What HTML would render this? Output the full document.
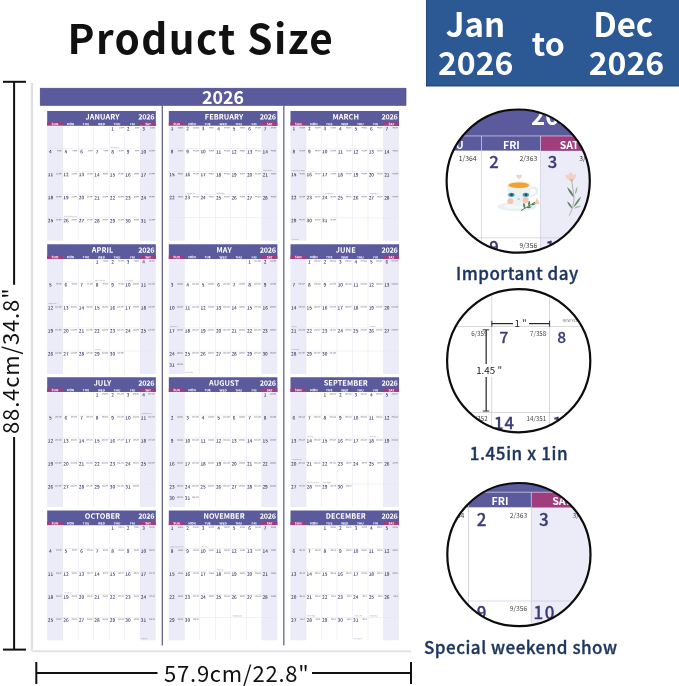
<!DOCTYPE html>
<html lang="en"><head><meta charset="utf-8"><title>Product Size</title>
<style>
html,body{margin:0;padding:0;background:#fff;}
body{width:679px;height:686px;overflow:hidden;position:relative;font-family:'Noto Sans CJK SC','Liberation Sans',sans-serif;}
svg{position:absolute;left:0;top:0;display:block;}
#t{will-change:transform;}
text{font-family:'Noto Sans CJK SC','Liberation Sans',sans-serif;}
.b{font-weight:700}.m{font-weight:500}.r{font-weight:400}
.w{fill:#fff}.n{fill:#3c3c76;stroke:#3c3c76;stroke-width:0.3px}.g{fill:#4a4a4a}
</style></head><body>
<svg width="679" height="686" viewBox="0 0 679 686">
<defs>
<linearGradient id="shl" x1="0" x2="1" y1="0" y2="0"><stop offset="0" stop-color="#fff"/><stop offset="0.6" stop-color="#d4d4da"/><stop offset="1" stop-color="#fff"/></linearGradient>
<linearGradient id="shb" x1="0" x2="0" y1="0" y2="1"><stop offset="0" stop-color="#fff"/><stop offset="0.5" stop-color="#d9d9de"/><stop offset="1" stop-color="#fff"/></linearGradient>
</defs>

<rect x="30" y="83" width="3.6" height="568" fill="url(#shl)"/>
<rect x="32" y="649.6" width="379" height="3.2" fill="url(#shb)"/>
<rect x="40.200" y="88.200" width="365.800" height="17.200" fill="#5b5a9c" stroke="#46457f" stroke-width="0.600"/>
<rect x="161.7" y="105.5" width="1.1" height="540" fill="#4a4a78"/>
<rect x="283.3" y="105.5" width="1.1" height="540" fill="#4a4a78"/>
<g transform="translate(47.2,111.0) rotate(0.04)">
<rect x="0" y="0" width="108.6" height="14.8" fill="#5b5a9c"/>
<rect x="0" y="11.3" width="15.51" height="3.5" fill="#a03d7c"/>
<rect x="93.09" y="11.3" width="15.51" height="3.5" fill="#a03d7c"/>
<rect x="0" y="14.8" width="15.51" height="115.0" fill="#ebecf7"/>
<rect x="93.09" y="14.8" width="15.51" height="115.0" fill="#ebecf7"/>
<rect x="15.26" y="14.8" width="0.5" height="115.0" fill="#e4e4f0"/>
<rect x="30.78" y="14.8" width="0.5" height="115.0" fill="#e4e4f0"/>
<rect x="46.29" y="14.8" width="0.5" height="115.0" fill="#e4e4f0"/>
<rect x="61.81" y="14.8" width="0.5" height="115.0" fill="#e4e4f0"/>
<rect x="77.32" y="14.8" width="0.5" height="115.0" fill="#e4e4f0"/>
<rect x="92.84" y="14.8" width="0.5" height="115.0" fill="#e4e4f0"/>
<rect x="0" y="37.55" width="108.6" height="0.5" fill="#e4e4f0"/>
<rect x="0" y="60.55" width="108.6" height="0.5" fill="#e4e4f0"/>
<rect x="0" y="83.55" width="108.6" height="0.5" fill="#e4e4f0"/>
<rect x="0" y="106.55" width="108.6" height="0.5" fill="#e4e4f0"/>
</g>
<g transform="translate(168.8,111.0) rotate(0.04)">
<rect x="0" y="0" width="108.6" height="14.8" fill="#5b5a9c"/>
<rect x="0" y="11.3" width="15.51" height="3.5" fill="#a03d7c"/>
<rect x="93.09" y="11.3" width="15.51" height="3.5" fill="#a03d7c"/>
<rect x="0" y="14.8" width="15.51" height="115.0" fill="#ebecf7"/>
<rect x="93.09" y="14.8" width="15.51" height="115.0" fill="#ebecf7"/>
<rect x="15.26" y="14.8" width="0.5" height="115.0" fill="#e4e4f0"/>
<rect x="30.78" y="14.8" width="0.5" height="115.0" fill="#e4e4f0"/>
<rect x="46.29" y="14.8" width="0.5" height="115.0" fill="#e4e4f0"/>
<rect x="61.81" y="14.8" width="0.5" height="115.0" fill="#e4e4f0"/>
<rect x="77.32" y="14.8" width="0.5" height="115.0" fill="#e4e4f0"/>
<rect x="92.84" y="14.8" width="0.5" height="115.0" fill="#e4e4f0"/>
<rect x="0" y="37.55" width="108.6" height="0.5" fill="#e4e4f0"/>
<rect x="0" y="60.55" width="108.6" height="0.5" fill="#e4e4f0"/>
<rect x="0" y="83.55" width="108.6" height="0.5" fill="#e4e4f0"/>
<rect x="0" y="106.55" width="108.6" height="0.5" fill="#e4e4f0"/>
</g>
<g transform="translate(290.5,111.0) rotate(0.04)">
<rect x="0" y="0" width="108.6" height="14.8" fill="#5b5a9c"/>
<rect x="0" y="11.3" width="15.51" height="3.5" fill="#a03d7c"/>
<rect x="93.09" y="11.3" width="15.51" height="3.5" fill="#a03d7c"/>
<rect x="0" y="14.8" width="15.51" height="115.0" fill="#ebecf7"/>
<rect x="93.09" y="14.8" width="15.51" height="115.0" fill="#ebecf7"/>
<rect x="15.26" y="14.8" width="0.5" height="115.0" fill="#e4e4f0"/>
<rect x="30.78" y="14.8" width="0.5" height="115.0" fill="#e4e4f0"/>
<rect x="46.29" y="14.8" width="0.5" height="115.0" fill="#e4e4f0"/>
<rect x="61.81" y="14.8" width="0.5" height="115.0" fill="#e4e4f0"/>
<rect x="77.32" y="14.8" width="0.5" height="115.0" fill="#e4e4f0"/>
<rect x="92.84" y="14.8" width="0.5" height="115.0" fill="#e4e4f0"/>
<rect x="0" y="37.55" width="108.6" height="0.5" fill="#e4e4f0"/>
<rect x="0" y="60.55" width="108.6" height="0.5" fill="#e4e4f0"/>
<rect x="0" y="83.55" width="108.6" height="0.5" fill="#e4e4f0"/>
<rect x="0" y="106.55" width="108.6" height="0.5" fill="#e4e4f0"/>
</g>
<g transform="translate(47.2,244.2) rotate(0.04)">
<rect x="0" y="0" width="108.6" height="14.8" fill="#5b5a9c"/>
<rect x="0" y="11.3" width="15.51" height="3.5" fill="#a03d7c"/>
<rect x="93.09" y="11.3" width="15.51" height="3.5" fill="#a03d7c"/>
<rect x="0" y="14.8" width="15.51" height="115.0" fill="#ebecf7"/>
<rect x="93.09" y="14.8" width="15.51" height="115.0" fill="#ebecf7"/>
<rect x="15.26" y="14.8" width="0.5" height="115.0" fill="#e4e4f0"/>
<rect x="30.78" y="14.8" width="0.5" height="115.0" fill="#e4e4f0"/>
<rect x="46.29" y="14.8" width="0.5" height="115.0" fill="#e4e4f0"/>
<rect x="61.81" y="14.8" width="0.5" height="115.0" fill="#e4e4f0"/>
<rect x="77.32" y="14.8" width="0.5" height="115.0" fill="#e4e4f0"/>
<rect x="92.84" y="14.8" width="0.5" height="115.0" fill="#e4e4f0"/>
<rect x="0" y="37.55" width="108.6" height="0.5" fill="#e4e4f0"/>
<rect x="0" y="60.55" width="108.6" height="0.5" fill="#e4e4f0"/>
<rect x="0" y="83.55" width="108.6" height="0.5" fill="#e4e4f0"/>
<rect x="0" y="106.55" width="108.6" height="0.5" fill="#e4e4f0"/>
</g>
<g transform="translate(168.8,244.2) rotate(0.04)">
<rect x="0" y="0" width="108.6" height="14.8" fill="#5b5a9c"/>
<rect x="0" y="11.3" width="15.51" height="3.5" fill="#a03d7c"/>
<rect x="93.09" y="11.3" width="15.51" height="3.5" fill="#a03d7c"/>
<rect x="0" y="14.8" width="15.51" height="115.0" fill="#ebecf7"/>
<rect x="93.09" y="14.8" width="15.51" height="115.0" fill="#ebecf7"/>
<rect x="15.26" y="14.8" width="0.5" height="115.0" fill="#e4e4f0"/>
<rect x="30.78" y="14.8" width="0.5" height="115.0" fill="#e4e4f0"/>
<rect x="46.29" y="14.8" width="0.5" height="115.0" fill="#e4e4f0"/>
<rect x="61.81" y="14.8" width="0.5" height="115.0" fill="#e4e4f0"/>
<rect x="77.32" y="14.8" width="0.5" height="115.0" fill="#e4e4f0"/>
<rect x="92.84" y="14.8" width="0.5" height="115.0" fill="#e4e4f0"/>
<rect x="0" y="37.55" width="108.6" height="0.5" fill="#e4e4f0"/>
<rect x="0" y="60.55" width="108.6" height="0.5" fill="#e4e4f0"/>
<rect x="0" y="83.55" width="108.6" height="0.5" fill="#e4e4f0"/>
<rect x="0" y="106.55" width="108.6" height="0.5" fill="#e4e4f0"/>
</g>
<g transform="translate(290.5,244.2) rotate(0.04)">
<rect x="0" y="0" width="108.6" height="14.8" fill="#5b5a9c"/>
<rect x="0" y="11.3" width="15.51" height="3.5" fill="#a03d7c"/>
<rect x="93.09" y="11.3" width="15.51" height="3.5" fill="#a03d7c"/>
<rect x="0" y="14.8" width="15.51" height="115.0" fill="#ebecf7"/>
<rect x="93.09" y="14.8" width="15.51" height="115.0" fill="#ebecf7"/>
<rect x="15.26" y="14.8" width="0.5" height="115.0" fill="#e4e4f0"/>
<rect x="30.78" y="14.8" width="0.5" height="115.0" fill="#e4e4f0"/>
<rect x="46.29" y="14.8" width="0.5" height="115.0" fill="#e4e4f0"/>
<rect x="61.81" y="14.8" width="0.5" height="115.0" fill="#e4e4f0"/>
<rect x="77.32" y="14.8" width="0.5" height="115.0" fill="#e4e4f0"/>
<rect x="92.84" y="14.8" width="0.5" height="115.0" fill="#e4e4f0"/>
<rect x="0" y="37.55" width="108.6" height="0.5" fill="#e4e4f0"/>
<rect x="0" y="60.55" width="108.6" height="0.5" fill="#e4e4f0"/>
<rect x="0" y="83.55" width="108.6" height="0.5" fill="#e4e4f0"/>
<rect x="0" y="106.55" width="108.6" height="0.5" fill="#e4e4f0"/>
</g>
<g transform="translate(47.2,377.2) rotate(0.04)">
<rect x="0" y="0" width="108.6" height="14.8" fill="#5b5a9c"/>
<rect x="0" y="11.3" width="15.51" height="3.5" fill="#a03d7c"/>
<rect x="93.09" y="11.3" width="15.51" height="3.5" fill="#a03d7c"/>
<rect x="0" y="14.8" width="15.51" height="115.0" fill="#ebecf7"/>
<rect x="93.09" y="14.8" width="15.51" height="115.0" fill="#ebecf7"/>
<rect x="15.26" y="14.8" width="0.5" height="115.0" fill="#e4e4f0"/>
<rect x="30.78" y="14.8" width="0.5" height="115.0" fill="#e4e4f0"/>
<rect x="46.29" y="14.8" width="0.5" height="115.0" fill="#e4e4f0"/>
<rect x="61.81" y="14.8" width="0.5" height="115.0" fill="#e4e4f0"/>
<rect x="77.32" y="14.8" width="0.5" height="115.0" fill="#e4e4f0"/>
<rect x="92.84" y="14.8" width="0.5" height="115.0" fill="#e4e4f0"/>
<rect x="0" y="37.55" width="108.6" height="0.5" fill="#e4e4f0"/>
<rect x="0" y="60.55" width="108.6" height="0.5" fill="#e4e4f0"/>
<rect x="0" y="83.55" width="108.6" height="0.5" fill="#e4e4f0"/>
<rect x="0" y="106.55" width="108.6" height="0.5" fill="#e4e4f0"/>
</g>
<g transform="translate(168.8,377.2) rotate(0.04)">
<rect x="0" y="0" width="108.6" height="14.8" fill="#5b5a9c"/>
<rect x="0" y="11.3" width="15.51" height="3.5" fill="#a03d7c"/>
<rect x="93.09" y="11.3" width="15.51" height="3.5" fill="#a03d7c"/>
<rect x="0" y="14.8" width="15.51" height="115.0" fill="#ebecf7"/>
<rect x="93.09" y="14.8" width="15.51" height="115.0" fill="#ebecf7"/>
<rect x="15.26" y="14.8" width="0.5" height="115.0" fill="#e4e4f0"/>
<rect x="30.78" y="14.8" width="0.5" height="115.0" fill="#e4e4f0"/>
<rect x="46.29" y="14.8" width="0.5" height="115.0" fill="#e4e4f0"/>
<rect x="61.81" y="14.8" width="0.5" height="115.0" fill="#e4e4f0"/>
<rect x="77.32" y="14.8" width="0.5" height="115.0" fill="#e4e4f0"/>
<rect x="92.84" y="14.8" width="0.5" height="115.0" fill="#e4e4f0"/>
<rect x="0" y="37.55" width="108.6" height="0.5" fill="#e4e4f0"/>
<rect x="0" y="60.55" width="108.6" height="0.5" fill="#e4e4f0"/>
<rect x="0" y="83.55" width="108.6" height="0.5" fill="#e4e4f0"/>
<rect x="0" y="106.55" width="108.6" height="0.5" fill="#e4e4f0"/>
</g>
<g transform="translate(290.5,377.2) rotate(0.04)">
<rect x="0" y="0" width="108.6" height="14.8" fill="#5b5a9c"/>
<rect x="0" y="11.3" width="15.51" height="3.5" fill="#a03d7c"/>
<rect x="93.09" y="11.3" width="15.51" height="3.5" fill="#a03d7c"/>
<rect x="0" y="14.8" width="15.51" height="115.0" fill="#ebecf7"/>
<rect x="93.09" y="14.8" width="15.51" height="115.0" fill="#ebecf7"/>
<rect x="15.26" y="14.8" width="0.5" height="115.0" fill="#e4e4f0"/>
<rect x="30.78" y="14.8" width="0.5" height="115.0" fill="#e4e4f0"/>
<rect x="46.29" y="14.8" width="0.5" height="115.0" fill="#e4e4f0"/>
<rect x="61.81" y="14.8" width="0.5" height="115.0" fill="#e4e4f0"/>
<rect x="77.32" y="14.8" width="0.5" height="115.0" fill="#e4e4f0"/>
<rect x="92.84" y="14.8" width="0.5" height="115.0" fill="#e4e4f0"/>
<rect x="0" y="37.55" width="108.6" height="0.5" fill="#e4e4f0"/>
<rect x="0" y="60.55" width="108.6" height="0.5" fill="#e4e4f0"/>
<rect x="0" y="83.55" width="108.6" height="0.5" fill="#e4e4f0"/>
<rect x="0" y="106.55" width="108.6" height="0.5" fill="#e4e4f0"/>
</g>
<g transform="translate(47.2,510.4) rotate(0.04)">
<rect x="0" y="0" width="108.6" height="14.8" fill="#5b5a9c"/>
<rect x="0" y="11.3" width="15.51" height="3.5" fill="#a03d7c"/>
<rect x="93.09" y="11.3" width="15.51" height="3.5" fill="#a03d7c"/>
<rect x="0" y="14.8" width="15.51" height="115.0" fill="#ebecf7"/>
<rect x="93.09" y="14.8" width="15.51" height="115.0" fill="#ebecf7"/>
<rect x="15.26" y="14.8" width="0.5" height="115.0" fill="#e4e4f0"/>
<rect x="30.78" y="14.8" width="0.5" height="115.0" fill="#e4e4f0"/>
<rect x="46.29" y="14.8" width="0.5" height="115.0" fill="#e4e4f0"/>
<rect x="61.81" y="14.8" width="0.5" height="115.0" fill="#e4e4f0"/>
<rect x="77.32" y="14.8" width="0.5" height="115.0" fill="#e4e4f0"/>
<rect x="92.84" y="14.8" width="0.5" height="115.0" fill="#e4e4f0"/>
<rect x="0" y="37.55" width="108.6" height="0.5" fill="#e4e4f0"/>
<rect x="0" y="60.55" width="108.6" height="0.5" fill="#e4e4f0"/>
<rect x="0" y="83.55" width="108.6" height="0.5" fill="#e4e4f0"/>
<rect x="0" y="106.55" width="108.6" height="0.5" fill="#e4e4f0"/>
</g>
<g transform="translate(168.8,510.4) rotate(0.04)">
<rect x="0" y="0" width="108.6" height="14.8" fill="#5b5a9c"/>
<rect x="0" y="11.3" width="15.51" height="3.5" fill="#a03d7c"/>
<rect x="93.09" y="11.3" width="15.51" height="3.5" fill="#a03d7c"/>
<rect x="0" y="14.8" width="15.51" height="115.0" fill="#ebecf7"/>
<rect x="93.09" y="14.8" width="15.51" height="115.0" fill="#ebecf7"/>
<rect x="15.26" y="14.8" width="0.5" height="115.0" fill="#e4e4f0"/>
<rect x="30.78" y="14.8" width="0.5" height="115.0" fill="#e4e4f0"/>
<rect x="46.29" y="14.8" width="0.5" height="115.0" fill="#e4e4f0"/>
<rect x="61.81" y="14.8" width="0.5" height="115.0" fill="#e4e4f0"/>
<rect x="77.32" y="14.8" width="0.5" height="115.0" fill="#e4e4f0"/>
<rect x="92.84" y="14.8" width="0.5" height="115.0" fill="#e4e4f0"/>
<rect x="0" y="37.55" width="108.6" height="0.5" fill="#e4e4f0"/>
<rect x="0" y="60.55" width="108.6" height="0.5" fill="#e4e4f0"/>
<rect x="0" y="83.55" width="108.6" height="0.5" fill="#e4e4f0"/>
<rect x="0" y="106.55" width="108.6" height="0.5" fill="#e4e4f0"/>
</g>
<g transform="translate(290.5,510.4) rotate(0.04)">
<rect x="0" y="0" width="108.6" height="14.8" fill="#5b5a9c"/>
<rect x="0" y="11.3" width="15.51" height="3.5" fill="#a03d7c"/>
<rect x="93.09" y="11.3" width="15.51" height="3.5" fill="#a03d7c"/>
<rect x="0" y="14.8" width="15.51" height="115.0" fill="#ebecf7"/>
<rect x="93.09" y="14.8" width="15.51" height="115.0" fill="#ebecf7"/>
<rect x="15.26" y="14.8" width="0.5" height="115.0" fill="#e4e4f0"/>
<rect x="30.78" y="14.8" width="0.5" height="115.0" fill="#e4e4f0"/>
<rect x="46.29" y="14.8" width="0.5" height="115.0" fill="#e4e4f0"/>
<rect x="61.81" y="14.8" width="0.5" height="115.0" fill="#e4e4f0"/>
<rect x="77.32" y="14.8" width="0.5" height="115.0" fill="#e4e4f0"/>
<rect x="92.84" y="14.8" width="0.5" height="115.0" fill="#e4e4f0"/>
<rect x="0" y="37.55" width="108.6" height="0.5" fill="#e4e4f0"/>
<rect x="0" y="60.55" width="108.6" height="0.5" fill="#e4e4f0"/>
<rect x="0" y="83.55" width="108.6" height="0.5" fill="#e4e4f0"/>
<rect x="0" y="106.55" width="108.6" height="0.5" fill="#e4e4f0"/>
</g>
<rect x="3" y="80.8" width="23" height="2" fill="#111"/>
<rect x="13.1" y="81" width="2" height="203.8" fill="#111"/>
<rect x="13.1" y="437" width="2" height="212.600" fill="#111"/>
<rect x="3" y="648.600" width="23" height="2" fill="#111"/>
<rect x="35.3" y="662" width="2" height="22" fill="#111"/>
<rect x="36" y="672" width="121.5" height="2" fill="#111"/>
<rect x="312" y="672" width="99" height="2" fill="#111"/>
<rect x="410" y="662" width="2" height="22" fill="#111"/>
<rect x="426" y="0" width="253" height="86.300" fill="#2c5893"/>
<rect x="426" y="85.300" width="253" height="1" fill="#23477a"/>
<rect x="426" y="0" width="0.800" height="86.300" fill="#23477a"/>
<g>
<rect x="440" y="105" width="160" height="155" fill="#fff"/>
<rect x="540.6" y="150.6" width="60" height="110" fill="#ebecf7"/>
<rect x="440" y="105" width="160" height="45.6" fill="#5b5a9c"/>
<rect x="540.6" y="136" width="60" height="14.6" fill="#a03d7c"/>
<rect x="440" y="135.6" width="160" height="0.7" fill="#dcdcf0"/>
<rect x="481" y="136" width="0.7" height="14.6" fill="#dcdcf0"/>
<rect x="540.3" y="136" width="0.7" height="14.6" fill="#dcdcf0"/>
<rect x="481" y="150" width="0.6" height="110" fill="#c4c4dc"/>
<rect x="540.3" y="150" width="0.6" height="110" fill="#c4c4dc"/>
<rect x="440" y="237.6" width="160" height="0.6" fill="#c4c4dc"/>
<g>
<path d="M519.1 179.2 c-1.100-0.900-2.700-2-2.700-3.500 c0-1.400 1.800-1.800 2.700-0.500 c0.900-1.300 2.700-0.900 2.700 0.500 c0 1.500-1.600 2.600-2.700 3.500z" fill="#f0d2c8"/>
<ellipse cx="517" cy="206.800" rx="19.6" ry="4.5" fill="#e9f0f3"/>
<ellipse cx="517.6" cy="206" rx="14" ry="2.6" fill="#f3f8f9"/>
<path d="M530 187.2 c4.5-1.6 8.8 0.2 8.4 4.4 c-0.4 3.6-4.6 5.6-8.8 5.4 l0.2-2 c3 0 5.8-1.3 6-3.6 c0.2-2.2-2.6-3-5.6-2z" fill="#e6eff3"/>
<path d="M507.2 185 c0 8 0.6 15.6 4 19.6 c3.6 2.2 11.400 2.200 15 0 c3.400-4 4.400-11.600 4.400-19.600z" fill="#e9f2f5"/>
<ellipse cx="518.9" cy="185" rx="11.7" ry="3.5" fill="#f7e7c8"/>
<ellipse cx="518.9" cy="185.2" rx="10.3" ry="2.8" fill="#f0a22e"/>
<ellipse cx="511.4" cy="194.800" rx="3.2" ry="2" fill="#4a9aab"/><ellipse cx="511.6" cy="194.900" rx="1.3" ry="1.3" fill="#1f4f66"/>
<ellipse cx="525.800" cy="194.800" rx="3.2" ry="2" fill="#4a9aab"/><ellipse cx="526" cy="194.900" rx="1.3" ry="1.3" fill="#1f4f66"/>
<circle cx="510.400" cy="201.200" r="3" fill="#f7c3b4"/><circle cx="525.600" cy="200" r="3" fill="#f7c3b4"/>
<path d="M517.4 198.800 q1.200 1.200 2.400 0" stroke="#55707c" stroke-width="0.500" fill="none"/>
<path d="M537 197.600 l2.600 6.400 l-5 0.300z" fill="#f6c8a4"/>
<path d="M521 210.600 c4-2.400 9.200-5.600 14-8.400" stroke="#4f7f55" stroke-width="1" fill="none"/>
<path d="M524.400 208.600 c-1.800-2.600-1.400-4.600-0.600-5.800 c1.600 1.600 2 3.600 0.600 5.800z M528.600 206.200 c-1-2.400-0.400-4.200 0.800-5.400 c1.200 1.800 1 3.600-0.800 5.400z M526.200 207.800 c2.400 0.800 4.600 0.200 5.600-1 c-1.800-1-3.800-0.800-5.600 1z M531 205 c2 0.600 3.800 0 4.800-1.200 c-1.600-0.800-3.400-0.400-4.800 1.200z" fill="#4f7f55"/>
</g>
<g>
<path d="M571.7 180.6 C572.4 186 573.6 192 574 197.6 C574 201.6 573 205.6 572 209 C571.2 211.600 570.2 213.800 569.2 215.600" stroke="#8b9d8d" stroke-width="0.700" fill="none"/>
<path d="M571.400 180.600 c-3.600-0.200-6-2.400-6.200-5.800 c1.200-0.200 2.200 0.200 3 1 c0.200-1.600 1-2.800 2.400-3.800 c1.400 0.800 2.200 2 2.600 3.400 c0.800-0.800 1.800-1.200 3-1 c0 3.400-1.800 5.800-4.800 6.200z" fill="#f4cfc2"/>
<path d="M569.600 179.400 l2 2.200 l2-2.200z" fill="#c9a183"/>
<path d="M574 197.600 C571 195 568.400 191.400 567.100 187 C570.600 189.600 573 193.200 574 197.600z" fill="#5f8062"/>
<path d="M575 194.600 C575 191.600 575.800 188.800 577.300 186.600 C577.600 189.600 576.800 192.400 575 194.600z" fill="#8fb093"/>
<path d="M572.400 208.700 C569.800 207 567.800 204.400 567.100 201.300 C569.900 203 571.700 205.600 572.400 208.700z" fill="#5f8062"/>
<path d="M573.200 207.400 C575 203 577.600 199.200 581 196.400 C579.800 200.800 577.200 204.600 573.200 207.400z" fill="#668a69"/>
<path d="M573.600 208.400 C576 206.400 578.600 205.600 581.400 205.800 C579.200 207.600 576.600 208.400 573.600 208.400z" fill="#9dbb9f"/>
</g>
</g>
<path fill="#fff" fill-rule="evenodd" d="M438 101.1h165v160h-165z M446.6 181.1a71.6 71.6 0 1 0 143.2 0a71.6 71.6 0 1 0 -143.2 0z"/>
<g>
<rect x="440" y="285" width="160" height="155" fill="#fff"/>
<rect x="491.5" y="285" width="0.6" height="155" fill="#bdbdc6"/>
<rect x="549.3000000000001" y="285" width="0.6" height="155" fill="#bdbdc6"/>
<rect x="440" y="326.4" width="160" height="0.6" fill="#bdbdc6"/>
<rect x="440" y="412.09999999999997" width="160" height="0.6" fill="#bdbdc6"/>
<rect x="491.8" y="323.1" width="57.8" height="1.1" fill="#111"/>
<rect x="491.4" y="320.8" width="0.9" height="5.8" fill="#222"/>
<rect x="549.2" y="320.8" width="0.9" height="5.800" fill="#222"/>
<rect x="513" y="318" width="16" height="8" fill="#fff"/>
<rect x="485.600" y="329.600" width="1.1" height="81.600" fill="#111"/>
<rect x="482.600" y="329.400" width="6.600" height="0.9" fill="#222"/>
<rect x="482.600" y="410.600" width="6.600" height="0.9" fill="#222"/>
<rect x="475" y="364" width="28" height="13" fill="#fff"/>
</g>
<path fill="#fff" fill-rule="evenodd" d="M438 280.7h165v160h-165z M447.1 360.7a71.6 71.6 0 1 0 143.2 0a71.6 71.6 0 1 0 -143.2 0z"/>
<g>
<rect x="440" y="478" width="160" height="155" fill="#fff"/>
<rect x="531.200" y="507" width="70" height="126" fill="#ebecf7"/>
<rect x="440" y="478" width="160" height="29.300" fill="#5b5a9c"/>
<rect x="531.200" y="492.200" width="70" height="15.100" fill="#a03d7c"/>
<rect x="440" y="491.800" width="160" height="0.700" fill="#dcdcf0"/>
<rect x="468" y="492.200" width="0.700" height="15" fill="#dcdcf0"/>
<rect x="530.900" y="492.200" width="0.700" height="15" fill="#dcdcf0"/>
<rect x="468" y="507.300" width="0.600" height="126" fill="#b9b9c8"/>
<rect x="530.900" y="507.300" width="0.600" height="126" fill="#c4c4dc"/>
<rect x="468" y="600.700" width="133" height="0.600" fill="#c4c4dc"/>
</g>
<path fill="#fff" fill-rule="evenodd" d="M438 474.6h165v160h-165z M447.3 554.6a71.6 71.6 0 1 0 143.2 0a71.6 71.6 0 1 0 -143.2 0z"/>
</svg>
<svg id="t" width="679" height="686" viewBox="0 0 679 686">
<text x="67.6" y="53.7" class="b" font-size="40.5" letter-spacing="1.4" fill="#111">Product Size</text>
<text x="223" y="103.7" text-anchor="middle" class="b w" font-size="17.8">2026</text>
<g transform="translate(47.2,111.0) rotate(0.04)">
<text x="55.3" y="8.4" text-anchor="middle" class="b w" font-size="7.3" letter-spacing="0.08">JANUARY</text>
<text x="107.1" y="8.4" text-anchor="end" class="b w" font-size="7.3" letter-spacing="-0.3">2026</text>
<text x="7.76" y="14.15" text-anchor="middle" class="b w" font-size="3.2">SUN</text>
<text x="23.27" y="14.15" text-anchor="middle" class="b w" font-size="3.2">MON</text>
<text x="38.79" y="14.15" text-anchor="middle" class="b w" font-size="3.2">TUE</text>
<text x="54.30" y="14.15" text-anchor="middle" class="b w" font-size="3.2">WED</text>
<text x="69.81" y="14.15" text-anchor="middle" class="b w" font-size="3.2">THU</text>
<text x="85.33" y="14.15" text-anchor="middle" class="b w" font-size="3.2">FRI</text>
<text x="100.84" y="14.15" text-anchor="middle" class="b w" font-size="3.2">SAT</text>
<text x="65.36" y="19.35" text-anchor="middle" class="m" fill="#30305a" font-size="4.7">1</text>
<text x="76.47" y="17.25" text-anchor="end" class="m g" font-size="1.7">1/364</text>
<text x="63.46" y="36.80" class="r" fill="#666" font-size="1.5" textLength="8.7" lengthAdjust="spacingAndGlyphs">New Year's Day</text>
<text x="80.87" y="19.35" text-anchor="middle" class="m" fill="#30305a" font-size="4.7">2</text>
<text x="91.99" y="17.25" text-anchor="end" class="m g" font-size="1.7">2/363</text>
<text x="96.39" y="19.35" text-anchor="middle" class="m" fill="#30305a" font-size="4.7">3</text>
<text x="107.50" y="17.25" text-anchor="end" class="m g" font-size="1.7">3/362</text>
<text x="3.30" y="42.35" text-anchor="middle" class="m" fill="#30305a" font-size="4.7">4</text>
<text x="14.41" y="40.25" text-anchor="end" class="m g" font-size="1.7">4/361</text>
<text x="18.81" y="42.35" text-anchor="middle" class="m" fill="#30305a" font-size="4.7">5</text>
<text x="29.93" y="40.25" text-anchor="end" class="m g" font-size="1.7">5/360</text>
<text x="34.33" y="42.35" text-anchor="middle" class="m" fill="#30305a" font-size="4.7">6</text>
<text x="45.44" y="40.25" text-anchor="end" class="m g" font-size="1.7">6/359</text>
<text x="49.84" y="42.35" text-anchor="middle" class="m" fill="#30305a" font-size="4.7">7</text>
<text x="60.96" y="40.25" text-anchor="end" class="m g" font-size="1.7">7/358</text>
<text x="65.36" y="42.35" text-anchor="middle" class="m" fill="#30305a" font-size="4.7">8</text>
<text x="76.47" y="40.25" text-anchor="end" class="m g" font-size="1.7">8/357</text>
<text x="80.87" y="42.35" text-anchor="middle" class="m" fill="#30305a" font-size="4.7">9</text>
<text x="91.99" y="40.25" text-anchor="end" class="m g" font-size="1.7">9/356</text>
<text x="96.39" y="42.35" text-anchor="middle" class="m" fill="#30305a" font-size="4.7">10</text>
<text x="107.50" y="40.25" text-anchor="end" class="m g" font-size="1.7">10/355</text>
<text x="3.30" y="65.35" text-anchor="middle" class="m" fill="#30305a" font-size="4.7">11</text>
<text x="14.41" y="63.25" text-anchor="end" class="m g" font-size="1.7">11/354</text>
<text x="18.81" y="65.35" text-anchor="middle" class="m" fill="#30305a" font-size="4.7">12</text>
<text x="29.93" y="63.25" text-anchor="end" class="m g" font-size="1.7">12/353</text>
<text x="34.33" y="65.35" text-anchor="middle" class="m" fill="#30305a" font-size="4.7">13</text>
<text x="45.44" y="63.25" text-anchor="end" class="m g" font-size="1.7">13/352</text>
<text x="49.84" y="65.35" text-anchor="middle" class="m" fill="#30305a" font-size="4.7">14</text>
<text x="60.96" y="63.25" text-anchor="end" class="m g" font-size="1.7">14/351</text>
<text x="65.36" y="65.35" text-anchor="middle" class="m" fill="#30305a" font-size="4.7">15</text>
<text x="76.47" y="63.25" text-anchor="end" class="m g" font-size="1.7">15/350</text>
<text x="80.87" y="65.35" text-anchor="middle" class="m" fill="#30305a" font-size="4.7">16</text>
<text x="91.99" y="63.25" text-anchor="end" class="m g" font-size="1.7">16/349</text>
<text x="96.39" y="65.35" text-anchor="middle" class="m" fill="#30305a" font-size="4.7">17</text>
<text x="107.50" y="63.25" text-anchor="end" class="m g" font-size="1.7">17/348</text>
<text x="3.30" y="88.35" text-anchor="middle" class="m" fill="#30305a" font-size="4.7">18</text>
<text x="14.41" y="86.25" text-anchor="end" class="m g" font-size="1.7">18/347</text>
<text x="18.81" y="88.35" text-anchor="middle" class="m" fill="#30305a" font-size="4.7">19</text>
<text x="29.93" y="86.25" text-anchor="end" class="m g" font-size="1.7">19/346</text>
<text x="16.91" y="105.80" class="r" fill="#666" font-size="1.5" textLength="13.0" lengthAdjust="spacingAndGlyphs">Martin Luther King Jr. Day</text>
<text x="34.33" y="88.35" text-anchor="middle" class="m" fill="#30305a" font-size="4.7">20</text>
<text x="45.44" y="86.25" text-anchor="end" class="m g" font-size="1.7">20/345</text>
<text x="49.84" y="88.35" text-anchor="middle" class="m" fill="#30305a" font-size="4.7">21</text>
<text x="60.96" y="86.25" text-anchor="end" class="m g" font-size="1.7">21/344</text>
<text x="65.36" y="88.35" text-anchor="middle" class="m" fill="#30305a" font-size="4.7">22</text>
<text x="76.47" y="86.25" text-anchor="end" class="m g" font-size="1.7">22/343</text>
<text x="80.87" y="88.35" text-anchor="middle" class="m" fill="#30305a" font-size="4.7">23</text>
<text x="91.99" y="86.25" text-anchor="end" class="m g" font-size="1.7">23/342</text>
<text x="96.39" y="88.35" text-anchor="middle" class="m" fill="#30305a" font-size="4.7">24</text>
<text x="107.50" y="86.25" text-anchor="end" class="m g" font-size="1.7">24/341</text>
<text x="3.30" y="111.35" text-anchor="middle" class="m" fill="#30305a" font-size="4.7">25</text>
<text x="14.41" y="109.25" text-anchor="end" class="m g" font-size="1.7">25/340</text>
<text x="18.81" y="111.35" text-anchor="middle" class="m" fill="#30305a" font-size="4.7">26</text>
<text x="29.93" y="109.25" text-anchor="end" class="m g" font-size="1.7">26/339</text>
<text x="34.33" y="111.35" text-anchor="middle" class="m" fill="#30305a" font-size="4.7">27</text>
<text x="45.44" y="109.25" text-anchor="end" class="m g" font-size="1.7">27/338</text>
<text x="49.84" y="111.35" text-anchor="middle" class="m" fill="#30305a" font-size="4.7">28</text>
<text x="60.96" y="109.25" text-anchor="end" class="m g" font-size="1.7">28/337</text>
<text x="65.36" y="111.35" text-anchor="middle" class="m" fill="#30305a" font-size="4.7">29</text>
<text x="76.47" y="109.25" text-anchor="end" class="m g" font-size="1.7">29/336</text>
<text x="80.87" y="111.35" text-anchor="middle" class="m" fill="#30305a" font-size="4.7">30</text>
<text x="91.99" y="109.25" text-anchor="end" class="m g" font-size="1.7">30/335</text>
<text x="96.39" y="111.35" text-anchor="middle" class="m" fill="#30305a" font-size="4.7">31</text>
<text x="107.50" y="109.25" text-anchor="end" class="m g" font-size="1.7">31/334</text>
</g>
<g transform="translate(168.8,111.0) rotate(0.04)">
<text x="55.3" y="8.4" text-anchor="middle" class="b w" font-size="7.3" letter-spacing="0.08">FEBRUARY</text>
<text x="107.1" y="8.4" text-anchor="end" class="b w" font-size="7.3" letter-spacing="-0.3">2026</text>
<text x="7.76" y="14.15" text-anchor="middle" class="b w" font-size="3.2">SUN</text>
<text x="23.27" y="14.15" text-anchor="middle" class="b w" font-size="3.2">MON</text>
<text x="38.79" y="14.15" text-anchor="middle" class="b w" font-size="3.2">TUE</text>
<text x="54.30" y="14.15" text-anchor="middle" class="b w" font-size="3.2">WED</text>
<text x="69.81" y="14.15" text-anchor="middle" class="b w" font-size="3.2">THU</text>
<text x="85.33" y="14.15" text-anchor="middle" class="b w" font-size="3.2">FRI</text>
<text x="100.84" y="14.15" text-anchor="middle" class="b w" font-size="3.2">SAT</text>
<text x="3.30" y="19.35" text-anchor="middle" class="m" fill="#30305a" font-size="4.7">1</text>
<text x="14.41" y="17.25" text-anchor="end" class="m g" font-size="1.7">32/333</text>
<text x="18.81" y="19.35" text-anchor="middle" class="m" fill="#30305a" font-size="4.7">2</text>
<text x="29.93" y="17.25" text-anchor="end" class="m g" font-size="1.7">33/332</text>
<text x="34.33" y="19.35" text-anchor="middle" class="m" fill="#30305a" font-size="4.7">3</text>
<text x="45.44" y="17.25" text-anchor="end" class="m g" font-size="1.7">34/331</text>
<text x="49.84" y="19.35" text-anchor="middle" class="m" fill="#30305a" font-size="4.7">4</text>
<text x="60.96" y="17.25" text-anchor="end" class="m g" font-size="1.7">35/330</text>
<text x="65.36" y="19.35" text-anchor="middle" class="m" fill="#30305a" font-size="4.7">5</text>
<text x="76.47" y="17.25" text-anchor="end" class="m g" font-size="1.7">36/329</text>
<text x="80.87" y="19.35" text-anchor="middle" class="m" fill="#30305a" font-size="4.7">6</text>
<text x="91.99" y="17.25" text-anchor="end" class="m g" font-size="1.7">37/328</text>
<text x="96.39" y="19.35" text-anchor="middle" class="m" fill="#30305a" font-size="4.7">7</text>
<text x="107.50" y="17.25" text-anchor="end" class="m g" font-size="1.7">38/327</text>
<text x="3.30" y="42.35" text-anchor="middle" class="m" fill="#30305a" font-size="4.7">8</text>
<text x="14.41" y="40.25" text-anchor="end" class="m g" font-size="1.7">39/326</text>
<text x="18.81" y="42.35" text-anchor="middle" class="m" fill="#30305a" font-size="4.7">9</text>
<text x="29.93" y="40.25" text-anchor="end" class="m g" font-size="1.7">40/325</text>
<text x="34.33" y="42.35" text-anchor="middle" class="m" fill="#30305a" font-size="4.7">10</text>
<text x="45.44" y="40.25" text-anchor="end" class="m g" font-size="1.7">41/324</text>
<text x="49.84" y="42.35" text-anchor="middle" class="m" fill="#30305a" font-size="4.7">11</text>
<text x="60.96" y="40.25" text-anchor="end" class="m g" font-size="1.7">42/323</text>
<text x="65.36" y="42.35" text-anchor="middle" class="m" fill="#30305a" font-size="4.7">12</text>
<text x="76.47" y="40.25" text-anchor="end" class="m g" font-size="1.7">43/322</text>
<text x="80.87" y="42.35" text-anchor="middle" class="m" fill="#30305a" font-size="4.7">13</text>
<text x="91.99" y="40.25" text-anchor="end" class="m g" font-size="1.7">44/321</text>
<text x="96.39" y="42.35" text-anchor="middle" class="m" fill="#30305a" font-size="4.7">14</text>
<text x="107.50" y="40.25" text-anchor="end" class="m g" font-size="1.7">45/320</text>
<text x="94.49" y="59.80" class="r" fill="#666" font-size="1.5" textLength="9.3" lengthAdjust="spacingAndGlyphs">Valentine's Day</text>
<text x="3.30" y="65.35" text-anchor="middle" class="m" fill="#30305a" font-size="4.7">15</text>
<text x="14.41" y="63.25" text-anchor="end" class="m g" font-size="1.7">46/319</text>
<text x="18.81" y="65.35" text-anchor="middle" class="m" fill="#30305a" font-size="4.7">16</text>
<text x="29.93" y="63.25" text-anchor="end" class="m g" font-size="1.7">47/318</text>
<text x="16.91" y="82.80" class="r" fill="#666" font-size="1.5" textLength="9.3" lengthAdjust="spacingAndGlyphs">Presidents' Day</text>
<text x="34.33" y="65.35" text-anchor="middle" class="m" fill="#30305a" font-size="4.7">17</text>
<text x="45.44" y="63.25" text-anchor="end" class="m g" font-size="1.7">48/317</text>
<text x="49.84" y="65.35" text-anchor="middle" class="m" fill="#30305a" font-size="4.7">18</text>
<text x="60.96" y="63.25" text-anchor="end" class="m g" font-size="1.7">49/316</text>
<text x="47.94" y="82.80" class="r" fill="#666" font-size="1.5" textLength="8.1" lengthAdjust="spacingAndGlyphs">Ash Wednesday</text>
<text x="65.36" y="65.35" text-anchor="middle" class="m" fill="#30305a" font-size="4.7">19</text>
<text x="76.47" y="63.25" text-anchor="end" class="m g" font-size="1.7">50/315</text>
<text x="80.87" y="65.35" text-anchor="middle" class="m" fill="#30305a" font-size="4.7">20</text>
<text x="91.99" y="63.25" text-anchor="end" class="m g" font-size="1.7">51/314</text>
<text x="96.39" y="65.35" text-anchor="middle" class="m" fill="#30305a" font-size="4.7">21</text>
<text x="107.50" y="63.25" text-anchor="end" class="m g" font-size="1.7">52/313</text>
<text x="3.30" y="88.35" text-anchor="middle" class="m" fill="#30305a" font-size="4.7">22</text>
<text x="14.41" y="86.25" text-anchor="end" class="m g" font-size="1.7">53/312</text>
<text x="18.81" y="88.35" text-anchor="middle" class="m" fill="#30305a" font-size="4.7">23</text>
<text x="29.93" y="86.25" text-anchor="end" class="m g" font-size="1.7">54/311</text>
<text x="34.33" y="88.35" text-anchor="middle" class="m" fill="#30305a" font-size="4.7">24</text>
<text x="45.44" y="86.25" text-anchor="end" class="m g" font-size="1.7">55/310</text>
<text x="49.84" y="88.35" text-anchor="middle" class="m" fill="#30305a" font-size="4.7">25</text>
<text x="60.96" y="86.25" text-anchor="end" class="m g" font-size="1.7">56/309</text>
<text x="65.36" y="88.35" text-anchor="middle" class="m" fill="#30305a" font-size="4.7">26</text>
<text x="76.47" y="86.25" text-anchor="end" class="m g" font-size="1.7">57/308</text>
<text x="80.87" y="88.35" text-anchor="middle" class="m" fill="#30305a" font-size="4.7">27</text>
<text x="91.99" y="86.25" text-anchor="end" class="m g" font-size="1.7">58/307</text>
<text x="96.39" y="88.35" text-anchor="middle" class="m" fill="#30305a" font-size="4.7">28</text>
<text x="107.50" y="86.25" text-anchor="end" class="m g" font-size="1.7">59/306</text>
</g>
<g transform="translate(290.5,111.0) rotate(0.04)">
<text x="55.3" y="8.4" text-anchor="middle" class="b w" font-size="7.3" letter-spacing="0.08">MARCH</text>
<text x="107.1" y="8.4" text-anchor="end" class="b w" font-size="7.3" letter-spacing="-0.3">2026</text>
<text x="7.76" y="14.15" text-anchor="middle" class="b w" font-size="3.2">SUN</text>
<text x="23.27" y="14.15" text-anchor="middle" class="b w" font-size="3.2">MON</text>
<text x="38.79" y="14.15" text-anchor="middle" class="b w" font-size="3.2">TUE</text>
<text x="54.30" y="14.15" text-anchor="middle" class="b w" font-size="3.2">WED</text>
<text x="69.81" y="14.15" text-anchor="middle" class="b w" font-size="3.2">THU</text>
<text x="85.33" y="14.15" text-anchor="middle" class="b w" font-size="3.2">FRI</text>
<text x="100.84" y="14.15" text-anchor="middle" class="b w" font-size="3.2">SAT</text>
<text x="3.30" y="19.35" text-anchor="middle" class="m" fill="#30305a" font-size="4.7">1</text>
<text x="14.41" y="17.25" text-anchor="end" class="m g" font-size="1.7">60/305</text>
<text x="18.81" y="19.35" text-anchor="middle" class="m" fill="#30305a" font-size="4.7">2</text>
<text x="29.93" y="17.25" text-anchor="end" class="m g" font-size="1.7">61/304</text>
<text x="34.33" y="19.35" text-anchor="middle" class="m" fill="#30305a" font-size="4.7">3</text>
<text x="45.44" y="17.25" text-anchor="end" class="m g" font-size="1.7">62/303</text>
<text x="49.84" y="19.35" text-anchor="middle" class="m" fill="#30305a" font-size="4.7">4</text>
<text x="60.96" y="17.25" text-anchor="end" class="m g" font-size="1.7">63/302</text>
<text x="65.36" y="19.35" text-anchor="middle" class="m" fill="#30305a" font-size="4.7">5</text>
<text x="76.47" y="17.25" text-anchor="end" class="m g" font-size="1.7">64/301</text>
<text x="80.87" y="19.35" text-anchor="middle" class="m" fill="#30305a" font-size="4.7">6</text>
<text x="91.99" y="17.25" text-anchor="end" class="m g" font-size="1.7">65/300</text>
<text x="96.39" y="19.35" text-anchor="middle" class="m" fill="#30305a" font-size="4.7">7</text>
<text x="107.50" y="17.25" text-anchor="end" class="m g" font-size="1.7">66/299</text>
<text x="3.30" y="42.35" text-anchor="middle" class="m" fill="#30305a" font-size="4.7">8</text>
<text x="14.41" y="40.25" text-anchor="end" class="m g" font-size="1.7">67/298</text>
<text x="1.40" y="59.80" class="r" fill="#666" font-size="1.5" textLength="13.0" lengthAdjust="spacingAndGlyphs">Daylight Saving Time Begins</text>
<text x="18.81" y="42.35" text-anchor="middle" class="m" fill="#30305a" font-size="4.7">9</text>
<text x="29.93" y="40.25" text-anchor="end" class="m g" font-size="1.7">68/297</text>
<text x="34.33" y="42.35" text-anchor="middle" class="m" fill="#30305a" font-size="4.7">10</text>
<text x="45.44" y="40.25" text-anchor="end" class="m g" font-size="1.7">69/296</text>
<text x="49.84" y="42.35" text-anchor="middle" class="m" fill="#30305a" font-size="4.7">11</text>
<text x="60.96" y="40.25" text-anchor="end" class="m g" font-size="1.7">70/295</text>
<text x="65.36" y="42.35" text-anchor="middle" class="m" fill="#30305a" font-size="4.7">12</text>
<text x="76.47" y="40.25" text-anchor="end" class="m g" font-size="1.7">71/294</text>
<text x="80.87" y="42.35" text-anchor="middle" class="m" fill="#30305a" font-size="4.7">13</text>
<text x="91.99" y="40.25" text-anchor="end" class="m g" font-size="1.7">72/293</text>
<text x="96.39" y="42.35" text-anchor="middle" class="m" fill="#30305a" font-size="4.7">14</text>
<text x="107.50" y="40.25" text-anchor="end" class="m g" font-size="1.7">73/292</text>
<text x="3.30" y="65.35" text-anchor="middle" class="m" fill="#30305a" font-size="4.7">15</text>
<text x="14.41" y="63.25" text-anchor="end" class="m g" font-size="1.7">74/291</text>
<text x="18.81" y="65.35" text-anchor="middle" class="m" fill="#30305a" font-size="4.7">16</text>
<text x="29.93" y="63.25" text-anchor="end" class="m g" font-size="1.7">75/290</text>
<text x="34.33" y="65.35" text-anchor="middle" class="m" fill="#30305a" font-size="4.7">17</text>
<text x="45.44" y="63.25" text-anchor="end" class="m g" font-size="1.7">76/289</text>
<text x="32.43" y="82.80" class="r" fill="#666" font-size="1.5" textLength="10.5" lengthAdjust="spacingAndGlyphs">St. Patrick's Day</text>
<text x="49.84" y="65.35" text-anchor="middle" class="m" fill="#30305a" font-size="4.7">18</text>
<text x="60.96" y="63.25" text-anchor="end" class="m g" font-size="1.7">77/288</text>
<text x="65.36" y="65.35" text-anchor="middle" class="m" fill="#30305a" font-size="4.7">19</text>
<text x="76.47" y="63.25" text-anchor="end" class="m g" font-size="1.7">78/287</text>
<text x="80.87" y="65.35" text-anchor="middle" class="m" fill="#30305a" font-size="4.7">20</text>
<text x="91.99" y="63.25" text-anchor="end" class="m g" font-size="1.7">79/286</text>
<text x="78.97" y="82.80" class="r" fill="#666" font-size="1.5" textLength="8.1" lengthAdjust="spacingAndGlyphs">Spring Begins</text>
<text x="96.39" y="65.35" text-anchor="middle" class="m" fill="#30305a" font-size="4.7">21</text>
<text x="107.50" y="63.25" text-anchor="end" class="m g" font-size="1.7">80/285</text>
<text x="3.30" y="88.35" text-anchor="middle" class="m" fill="#30305a" font-size="4.7">22</text>
<text x="14.41" y="86.25" text-anchor="end" class="m g" font-size="1.7">81/284</text>
<text x="18.81" y="88.35" text-anchor="middle" class="m" fill="#30305a" font-size="4.7">23</text>
<text x="29.93" y="86.25" text-anchor="end" class="m g" font-size="1.7">82/283</text>
<text x="34.33" y="88.35" text-anchor="middle" class="m" fill="#30305a" font-size="4.7">24</text>
<text x="45.44" y="86.25" text-anchor="end" class="m g" font-size="1.7">83/282</text>
<text x="49.84" y="88.35" text-anchor="middle" class="m" fill="#30305a" font-size="4.7">25</text>
<text x="60.96" y="86.25" text-anchor="end" class="m g" font-size="1.7">84/281</text>
<text x="65.36" y="88.35" text-anchor="middle" class="m" fill="#30305a" font-size="4.7">26</text>
<text x="76.47" y="86.25" text-anchor="end" class="m g" font-size="1.7">85/280</text>
<text x="80.87" y="88.35" text-anchor="middle" class="m" fill="#30305a" font-size="4.7">27</text>
<text x="91.99" y="86.25" text-anchor="end" class="m g" font-size="1.7">86/279</text>
<text x="96.39" y="88.35" text-anchor="middle" class="m" fill="#30305a" font-size="4.7">28</text>
<text x="107.50" y="86.25" text-anchor="end" class="m g" font-size="1.7">87/278</text>
<text x="3.30" y="111.35" text-anchor="middle" class="m" fill="#30305a" font-size="4.7">29</text>
<text x="14.41" y="109.25" text-anchor="end" class="m g" font-size="1.7">88/277</text>
<text x="1.40" y="128.80" class="r" fill="#666" font-size="1.5" textLength="6.8" lengthAdjust="spacingAndGlyphs">Palm Sunday</text>
<text x="18.81" y="111.35" text-anchor="middle" class="m" fill="#30305a" font-size="4.7">30</text>
<text x="29.93" y="109.25" text-anchor="end" class="m g" font-size="1.7">89/276</text>
<text x="34.33" y="111.35" text-anchor="middle" class="m" fill="#30305a" font-size="4.7">31</text>
<text x="45.44" y="109.25" text-anchor="end" class="m g" font-size="1.7">90/275</text>
</g>
<g transform="translate(47.2,244.2) rotate(0.04)">
<text x="55.3" y="8.4" text-anchor="middle" class="b w" font-size="7.3" letter-spacing="0.08">APRIL</text>
<text x="107.1" y="8.4" text-anchor="end" class="b w" font-size="7.3" letter-spacing="-0.3">2026</text>
<text x="7.76" y="14.15" text-anchor="middle" class="b w" font-size="3.2">SUN</text>
<text x="23.27" y="14.15" text-anchor="middle" class="b w" font-size="3.2">MON</text>
<text x="38.79" y="14.15" text-anchor="middle" class="b w" font-size="3.2">TUE</text>
<text x="54.30" y="14.15" text-anchor="middle" class="b w" font-size="3.2">WED</text>
<text x="69.81" y="14.15" text-anchor="middle" class="b w" font-size="3.2">THU</text>
<text x="85.33" y="14.15" text-anchor="middle" class="b w" font-size="3.2">FRI</text>
<text x="100.84" y="14.15" text-anchor="middle" class="b w" font-size="3.2">SAT</text>
<text x="49.84" y="19.35" text-anchor="middle" class="m" fill="#30305a" font-size="4.7">1</text>
<text x="60.96" y="17.25" text-anchor="end" class="m g" font-size="1.7">91/274</text>
<text x="47.94" y="36.80" class="r" fill="#666" font-size="1.5" textLength="9.9" lengthAdjust="spacingAndGlyphs">April Fools' Day</text>
<text x="65.36" y="19.35" text-anchor="middle" class="m" fill="#30305a" font-size="4.7">2</text>
<text x="76.47" y="17.25" text-anchor="end" class="m g" font-size="1.7">92/273</text>
<text x="80.87" y="19.35" text-anchor="middle" class="m" fill="#30305a" font-size="4.7">3</text>
<text x="91.99" y="17.25" text-anchor="end" class="m g" font-size="1.7">93/272</text>
<text x="78.97" y="36.80" class="r" fill="#666" font-size="1.5" textLength="6.8" lengthAdjust="spacingAndGlyphs">Good Friday</text>
<text x="96.39" y="19.35" text-anchor="middle" class="m" fill="#30305a" font-size="4.7">4</text>
<text x="107.50" y="17.25" text-anchor="end" class="m g" font-size="1.7">94/271</text>
<text x="3.30" y="42.35" text-anchor="middle" class="m" fill="#30305a" font-size="4.7">5</text>
<text x="14.41" y="40.25" text-anchor="end" class="m g" font-size="1.7">95/270</text>
<text x="1.40" y="59.80" class="r" fill="#666" font-size="1.5" textLength="8.1" lengthAdjust="spacingAndGlyphs">Easter Sunday</text>
<text x="18.81" y="42.35" text-anchor="middle" class="m" fill="#30305a" font-size="4.7">6</text>
<text x="29.93" y="40.25" text-anchor="end" class="m g" font-size="1.7">96/269</text>
<text x="34.33" y="42.35" text-anchor="middle" class="m" fill="#30305a" font-size="4.7">7</text>
<text x="45.44" y="40.25" text-anchor="end" class="m g" font-size="1.7">97/268</text>
<text x="49.84" y="42.35" text-anchor="middle" class="m" fill="#30305a" font-size="4.7">8</text>
<text x="60.96" y="40.25" text-anchor="end" class="m g" font-size="1.7">98/267</text>
<text x="65.36" y="42.35" text-anchor="middle" class="m" fill="#30305a" font-size="4.7">9</text>
<text x="76.47" y="40.25" text-anchor="end" class="m g" font-size="1.7">99/266</text>
<text x="80.87" y="42.35" text-anchor="middle" class="m" fill="#30305a" font-size="4.7">10</text>
<text x="91.99" y="40.25" text-anchor="end" class="m g" font-size="1.7">100/265</text>
<text x="96.39" y="42.35" text-anchor="middle" class="m" fill="#30305a" font-size="4.7">11</text>
<text x="107.50" y="40.25" text-anchor="end" class="m g" font-size="1.7">101/264</text>
<text x="3.30" y="65.35" text-anchor="middle" class="m" fill="#30305a" font-size="4.7">12</text>
<text x="14.41" y="63.25" text-anchor="end" class="m g" font-size="1.7">102/263</text>
<text x="18.81" y="65.35" text-anchor="middle" class="m" fill="#30305a" font-size="4.7">13</text>
<text x="29.93" y="63.25" text-anchor="end" class="m g" font-size="1.7">103/262</text>
<text x="34.33" y="65.35" text-anchor="middle" class="m" fill="#30305a" font-size="4.7">14</text>
<text x="45.44" y="63.25" text-anchor="end" class="m g" font-size="1.7">104/261</text>
<text x="49.84" y="65.35" text-anchor="middle" class="m" fill="#30305a" font-size="4.7">15</text>
<text x="60.96" y="63.25" text-anchor="end" class="m g" font-size="1.7">105/260</text>
<text x="65.36" y="65.35" text-anchor="middle" class="m" fill="#30305a" font-size="4.7">16</text>
<text x="76.47" y="63.25" text-anchor="end" class="m g" font-size="1.7">106/259</text>
<text x="80.87" y="65.35" text-anchor="middle" class="m" fill="#30305a" font-size="4.7">17</text>
<text x="91.99" y="63.25" text-anchor="end" class="m g" font-size="1.7">107/258</text>
<text x="96.39" y="65.35" text-anchor="middle" class="m" fill="#30305a" font-size="4.7">18</text>
<text x="107.50" y="63.25" text-anchor="end" class="m g" font-size="1.7">108/257</text>
<text x="3.30" y="88.35" text-anchor="middle" class="m" fill="#30305a" font-size="4.7">19</text>
<text x="14.41" y="86.25" text-anchor="end" class="m g" font-size="1.7">109/256</text>
<text x="18.81" y="88.35" text-anchor="middle" class="m" fill="#30305a" font-size="4.7">20</text>
<text x="29.93" y="86.25" text-anchor="end" class="m g" font-size="1.7">110/255</text>
<text x="34.33" y="88.35" text-anchor="middle" class="m" fill="#30305a" font-size="4.7">21</text>
<text x="45.44" y="86.25" text-anchor="end" class="m g" font-size="1.7">111/254</text>
<text x="49.84" y="88.35" text-anchor="middle" class="m" fill="#30305a" font-size="4.7">22</text>
<text x="60.96" y="86.25" text-anchor="end" class="m g" font-size="1.7">112/253</text>
<text x="47.94" y="105.80" class="r" fill="#666" font-size="1.5" textLength="5.6" lengthAdjust="spacingAndGlyphs">Earth Day</text>
<text x="65.36" y="88.35" text-anchor="middle" class="m" fill="#30305a" font-size="4.7">23</text>
<text x="76.47" y="86.25" text-anchor="end" class="m g" font-size="1.7">113/252</text>
<text x="80.87" y="88.35" text-anchor="middle" class="m" fill="#30305a" font-size="4.7">24</text>
<text x="91.99" y="86.25" text-anchor="end" class="m g" font-size="1.7">114/251</text>
<text x="96.39" y="88.35" text-anchor="middle" class="m" fill="#30305a" font-size="4.7">25</text>
<text x="107.50" y="86.25" text-anchor="end" class="m g" font-size="1.7">115/250</text>
<text x="3.30" y="111.35" text-anchor="middle" class="m" fill="#30305a" font-size="4.7">26</text>
<text x="14.41" y="109.25" text-anchor="end" class="m g" font-size="1.7">116/249</text>
<text x="18.81" y="111.35" text-anchor="middle" class="m" fill="#30305a" font-size="4.7">27</text>
<text x="29.93" y="109.25" text-anchor="end" class="m g" font-size="1.7">117/248</text>
<text x="34.33" y="111.35" text-anchor="middle" class="m" fill="#30305a" font-size="4.7">28</text>
<text x="45.44" y="109.25" text-anchor="end" class="m g" font-size="1.7">118/247</text>
<text x="49.84" y="111.35" text-anchor="middle" class="m" fill="#30305a" font-size="4.7">29</text>
<text x="60.96" y="109.25" text-anchor="end" class="m g" font-size="1.7">119/246</text>
<text x="65.36" y="111.35" text-anchor="middle" class="m" fill="#30305a" font-size="4.7">30</text>
<text x="76.47" y="109.25" text-anchor="end" class="m g" font-size="1.7">120/245</text>
</g>
<g transform="translate(168.8,244.2) rotate(0.04)">
<text x="55.3" y="8.4" text-anchor="middle" class="b w" font-size="7.3" letter-spacing="0.08">MAY</text>
<text x="107.1" y="8.4" text-anchor="end" class="b w" font-size="7.3" letter-spacing="-0.3">2026</text>
<text x="7.76" y="14.15" text-anchor="middle" class="b w" font-size="3.2">SUN</text>
<text x="23.27" y="14.15" text-anchor="middle" class="b w" font-size="3.2">MON</text>
<text x="38.79" y="14.15" text-anchor="middle" class="b w" font-size="3.2">TUE</text>
<text x="54.30" y="14.15" text-anchor="middle" class="b w" font-size="3.2">WED</text>
<text x="69.81" y="14.15" text-anchor="middle" class="b w" font-size="3.2">THU</text>
<text x="85.33" y="14.15" text-anchor="middle" class="b w" font-size="3.2">FRI</text>
<text x="100.84" y="14.15" text-anchor="middle" class="b w" font-size="3.2">SAT</text>
<text x="80.87" y="19.35" text-anchor="middle" class="m" fill="#30305a" font-size="4.7">1</text>
<text x="91.99" y="17.25" text-anchor="end" class="m g" font-size="1.7">121/244</text>
<text x="96.39" y="19.35" text-anchor="middle" class="m" fill="#30305a" font-size="4.7">2</text>
<text x="107.50" y="17.25" text-anchor="end" class="m g" font-size="1.7">122/243</text>
<text x="3.30" y="42.35" text-anchor="middle" class="m" fill="#30305a" font-size="4.7">3</text>
<text x="14.41" y="40.25" text-anchor="end" class="m g" font-size="1.7">123/242</text>
<text x="18.81" y="42.35" text-anchor="middle" class="m" fill="#30305a" font-size="4.7">4</text>
<text x="29.93" y="40.25" text-anchor="end" class="m g" font-size="1.7">124/241</text>
<text x="34.33" y="42.35" text-anchor="middle" class="m" fill="#30305a" font-size="4.7">5</text>
<text x="45.44" y="40.25" text-anchor="end" class="m g" font-size="1.7">125/240</text>
<text x="49.84" y="42.35" text-anchor="middle" class="m" fill="#30305a" font-size="4.7">6</text>
<text x="60.96" y="40.25" text-anchor="end" class="m g" font-size="1.7">126/239</text>
<text x="65.36" y="42.35" text-anchor="middle" class="m" fill="#30305a" font-size="4.7">7</text>
<text x="76.47" y="40.25" text-anchor="end" class="m g" font-size="1.7">127/238</text>
<text x="80.87" y="42.35" text-anchor="middle" class="m" fill="#30305a" font-size="4.7">8</text>
<text x="91.99" y="40.25" text-anchor="end" class="m g" font-size="1.7">128/237</text>
<text x="96.39" y="42.35" text-anchor="middle" class="m" fill="#30305a" font-size="4.7">9</text>
<text x="107.50" y="40.25" text-anchor="end" class="m g" font-size="1.7">129/236</text>
<text x="3.30" y="65.35" text-anchor="middle" class="m" fill="#30305a" font-size="4.7">10</text>
<text x="14.41" y="63.25" text-anchor="end" class="m g" font-size="1.7">130/235</text>
<text x="1.40" y="82.80" class="r" fill="#666" font-size="1.5" textLength="7.4" lengthAdjust="spacingAndGlyphs">Mother's Day</text>
<text x="18.81" y="65.35" text-anchor="middle" class="m" fill="#30305a" font-size="4.7">11</text>
<text x="29.93" y="63.25" text-anchor="end" class="m g" font-size="1.7">131/234</text>
<text x="34.33" y="65.35" text-anchor="middle" class="m" fill="#30305a" font-size="4.7">12</text>
<text x="45.44" y="63.25" text-anchor="end" class="m g" font-size="1.7">132/233</text>
<text x="49.84" y="65.35" text-anchor="middle" class="m" fill="#30305a" font-size="4.7">13</text>
<text x="60.96" y="63.25" text-anchor="end" class="m g" font-size="1.7">133/232</text>
<text x="65.36" y="65.35" text-anchor="middle" class="m" fill="#30305a" font-size="4.7">14</text>
<text x="76.47" y="63.25" text-anchor="end" class="m g" font-size="1.7">134/231</text>
<text x="80.87" y="65.35" text-anchor="middle" class="m" fill="#30305a" font-size="4.7">15</text>
<text x="91.99" y="63.25" text-anchor="end" class="m g" font-size="1.7">135/230</text>
<text x="96.39" y="65.35" text-anchor="middle" class="m" fill="#30305a" font-size="4.7">16</text>
<text x="107.50" y="63.25" text-anchor="end" class="m g" font-size="1.7">136/229</text>
<text x="3.30" y="88.35" text-anchor="middle" class="m" fill="#30305a" font-size="4.7">17</text>
<text x="14.41" y="86.25" text-anchor="end" class="m g" font-size="1.7">137/228</text>
<text x="18.81" y="88.35" text-anchor="middle" class="m" fill="#30305a" font-size="4.7">18</text>
<text x="29.93" y="86.25" text-anchor="end" class="m g" font-size="1.7">138/227</text>
<text x="34.33" y="88.35" text-anchor="middle" class="m" fill="#30305a" font-size="4.7">19</text>
<text x="45.44" y="86.25" text-anchor="end" class="m g" font-size="1.7">139/226</text>
<text x="49.84" y="88.35" text-anchor="middle" class="m" fill="#30305a" font-size="4.7">20</text>
<text x="60.96" y="86.25" text-anchor="end" class="m g" font-size="1.7">140/225</text>
<text x="65.36" y="88.35" text-anchor="middle" class="m" fill="#30305a" font-size="4.7">21</text>
<text x="76.47" y="86.25" text-anchor="end" class="m g" font-size="1.7">141/224</text>
<text x="80.87" y="88.35" text-anchor="middle" class="m" fill="#30305a" font-size="4.7">22</text>
<text x="91.99" y="86.25" text-anchor="end" class="m g" font-size="1.7">142/223</text>
<text x="96.39" y="88.35" text-anchor="middle" class="m" fill="#30305a" font-size="4.7">23</text>
<text x="107.50" y="86.25" text-anchor="end" class="m g" font-size="1.7">143/222</text>
<text x="3.30" y="111.35" text-anchor="middle" class="m" fill="#30305a" font-size="4.7">24</text>
<text x="14.41" y="109.25" text-anchor="end" class="m g" font-size="1.7">144/221</text>
<text x="18.81" y="111.35" text-anchor="middle" class="m" fill="#30305a" font-size="4.7">25</text>
<text x="29.93" y="109.25" text-anchor="end" class="m g" font-size="1.7">145/220</text>
<text x="16.91" y="128.80" class="r" fill="#666" font-size="1.5" textLength="7.4" lengthAdjust="spacingAndGlyphs">Memorial Day</text>
<text x="34.33" y="111.35" text-anchor="middle" class="m" fill="#30305a" font-size="4.7">26</text>
<text x="45.44" y="109.25" text-anchor="end" class="m g" font-size="1.7">146/219</text>
<text x="49.84" y="111.35" text-anchor="middle" class="m" fill="#30305a" font-size="4.7">27</text>
<text x="60.96" y="109.25" text-anchor="end" class="m g" font-size="1.7">147/218</text>
<text x="65.36" y="111.35" text-anchor="middle" class="m" fill="#30305a" font-size="4.7">28</text>
<text x="76.47" y="109.25" text-anchor="end" class="m g" font-size="1.7">148/217</text>
<text x="80.87" y="111.35" text-anchor="middle" class="m" fill="#30305a" font-size="4.7">29</text>
<text x="91.99" y="109.25" text-anchor="end" class="m g" font-size="1.7">149/216</text>
<text x="96.39" y="111.35" text-anchor="middle" class="m" fill="#30305a" font-size="4.7">30</text>
<text x="107.50" y="109.25" text-anchor="end" class="m g" font-size="1.7">150/215</text>
<text x="3.30" y="122.65" text-anchor="middle" class="m" fill="#30305a" font-size="4.7">31</text>
<text x="14.41" y="120.55" text-anchor="end" class="m g" font-size="1.7">151/214</text>
</g>
<g transform="translate(290.5,244.2) rotate(0.04)">
<text x="55.3" y="8.4" text-anchor="middle" class="b w" font-size="7.3" letter-spacing="0.08">JUNE</text>
<text x="107.1" y="8.4" text-anchor="end" class="b w" font-size="7.3" letter-spacing="-0.3">2026</text>
<text x="7.76" y="14.15" text-anchor="middle" class="b w" font-size="3.2">SUN</text>
<text x="23.27" y="14.15" text-anchor="middle" class="b w" font-size="3.2">MON</text>
<text x="38.79" y="14.15" text-anchor="middle" class="b w" font-size="3.2">TUE</text>
<text x="54.30" y="14.15" text-anchor="middle" class="b w" font-size="3.2">WED</text>
<text x="69.81" y="14.15" text-anchor="middle" class="b w" font-size="3.2">THU</text>
<text x="85.33" y="14.15" text-anchor="middle" class="b w" font-size="3.2">FRI</text>
<text x="100.84" y="14.15" text-anchor="middle" class="b w" font-size="3.2">SAT</text>
<text x="18.81" y="19.35" text-anchor="middle" class="m" fill="#30305a" font-size="4.7">1</text>
<text x="29.93" y="17.25" text-anchor="end" class="m g" font-size="1.7">152/213</text>
<text x="34.33" y="19.35" text-anchor="middle" class="m" fill="#30305a" font-size="4.7">2</text>
<text x="45.44" y="17.25" text-anchor="end" class="m g" font-size="1.7">153/212</text>
<text x="49.84" y="19.35" text-anchor="middle" class="m" fill="#30305a" font-size="4.7">3</text>
<text x="60.96" y="17.25" text-anchor="end" class="m g" font-size="1.7">154/211</text>
<text x="65.36" y="19.35" text-anchor="middle" class="m" fill="#30305a" font-size="4.7">4</text>
<text x="76.47" y="17.25" text-anchor="end" class="m g" font-size="1.7">155/210</text>
<text x="80.87" y="19.35" text-anchor="middle" class="m" fill="#30305a" font-size="4.7">5</text>
<text x="91.99" y="17.25" text-anchor="end" class="m g" font-size="1.7">156/209</text>
<text x="96.39" y="19.35" text-anchor="middle" class="m" fill="#30305a" font-size="4.7">6</text>
<text x="107.50" y="17.25" text-anchor="end" class="m g" font-size="1.7">157/208</text>
<text x="3.30" y="42.35" text-anchor="middle" class="m" fill="#30305a" font-size="4.7">7</text>
<text x="14.41" y="40.25" text-anchor="end" class="m g" font-size="1.7">158/207</text>
<text x="18.81" y="42.35" text-anchor="middle" class="m" fill="#30305a" font-size="4.7">8</text>
<text x="29.93" y="40.25" text-anchor="end" class="m g" font-size="1.7">159/206</text>
<text x="34.33" y="42.35" text-anchor="middle" class="m" fill="#30305a" font-size="4.7">9</text>
<text x="45.44" y="40.25" text-anchor="end" class="m g" font-size="1.7">160/205</text>
<text x="49.84" y="42.35" text-anchor="middle" class="m" fill="#30305a" font-size="4.7">10</text>
<text x="60.96" y="40.25" text-anchor="end" class="m g" font-size="1.7">161/204</text>
<text x="65.36" y="42.35" text-anchor="middle" class="m" fill="#30305a" font-size="4.7">11</text>
<text x="76.47" y="40.25" text-anchor="end" class="m g" font-size="1.7">162/203</text>
<text x="80.87" y="42.35" text-anchor="middle" class="m" fill="#30305a" font-size="4.7">12</text>
<text x="91.99" y="40.25" text-anchor="end" class="m g" font-size="1.7">163/202</text>
<text x="96.39" y="42.35" text-anchor="middle" class="m" fill="#30305a" font-size="4.7">13</text>
<text x="107.50" y="40.25" text-anchor="end" class="m g" font-size="1.7">164/201</text>
<text x="3.30" y="65.35" text-anchor="middle" class="m" fill="#30305a" font-size="4.7">14</text>
<text x="14.41" y="63.25" text-anchor="end" class="m g" font-size="1.7">165/200</text>
<text x="1.40" y="82.80" class="r" fill="#666" font-size="1.5" textLength="5.0" lengthAdjust="spacingAndGlyphs">Flag Day</text>
<text x="18.81" y="65.35" text-anchor="middle" class="m" fill="#30305a" font-size="4.7">15</text>
<text x="29.93" y="63.25" text-anchor="end" class="m g" font-size="1.7">166/199</text>
<text x="34.33" y="65.35" text-anchor="middle" class="m" fill="#30305a" font-size="4.7">16</text>
<text x="45.44" y="63.25" text-anchor="end" class="m g" font-size="1.7">167/198</text>
<text x="49.84" y="65.35" text-anchor="middle" class="m" fill="#30305a" font-size="4.7">17</text>
<text x="60.96" y="63.25" text-anchor="end" class="m g" font-size="1.7">168/197</text>
<text x="65.36" y="65.35" text-anchor="middle" class="m" fill="#30305a" font-size="4.7">18</text>
<text x="76.47" y="63.25" text-anchor="end" class="m g" font-size="1.7">169/196</text>
<text x="80.87" y="65.35" text-anchor="middle" class="m" fill="#30305a" font-size="4.7">19</text>
<text x="91.99" y="63.25" text-anchor="end" class="m g" font-size="1.7">170/195</text>
<text x="78.97" y="82.80" class="r" fill="#666" font-size="1.5" textLength="6.2" lengthAdjust="spacingAndGlyphs">Juneteenth</text>
<text x="96.39" y="65.35" text-anchor="middle" class="m" fill="#30305a" font-size="4.7">20</text>
<text x="107.50" y="63.25" text-anchor="end" class="m g" font-size="1.7">171/194</text>
<text x="3.30" y="88.35" text-anchor="middle" class="m" fill="#30305a" font-size="4.7">21</text>
<text x="14.41" y="86.25" text-anchor="end" class="m g" font-size="1.7">172/193</text>
<text x="1.40" y="105.80" class="r" fill="#666" font-size="1.5" textLength="7.4" lengthAdjust="spacingAndGlyphs">Father's Day</text>
<text x="18.81" y="88.35" text-anchor="middle" class="m" fill="#30305a" font-size="4.7">22</text>
<text x="29.93" y="86.25" text-anchor="end" class="m g" font-size="1.7">173/192</text>
<text x="34.33" y="88.35" text-anchor="middle" class="m" fill="#30305a" font-size="4.7">23</text>
<text x="45.44" y="86.25" text-anchor="end" class="m g" font-size="1.7">174/191</text>
<text x="49.84" y="88.35" text-anchor="middle" class="m" fill="#30305a" font-size="4.7">24</text>
<text x="60.96" y="86.25" text-anchor="end" class="m g" font-size="1.7">175/190</text>
<text x="65.36" y="88.35" text-anchor="middle" class="m" fill="#30305a" font-size="4.7">25</text>
<text x="76.47" y="86.25" text-anchor="end" class="m g" font-size="1.7">176/189</text>
<text x="80.87" y="88.35" text-anchor="middle" class="m" fill="#30305a" font-size="4.7">26</text>
<text x="91.99" y="86.25" text-anchor="end" class="m g" font-size="1.7">177/188</text>
<text x="96.39" y="88.35" text-anchor="middle" class="m" fill="#30305a" font-size="4.7">27</text>
<text x="107.50" y="86.25" text-anchor="end" class="m g" font-size="1.7">178/187</text>
<text x="3.30" y="111.35" text-anchor="middle" class="m" fill="#30305a" font-size="4.7">28</text>
<text x="14.41" y="109.25" text-anchor="end" class="m g" font-size="1.7">179/186</text>
<text x="18.81" y="111.35" text-anchor="middle" class="m" fill="#30305a" font-size="4.7">29</text>
<text x="29.93" y="109.25" text-anchor="end" class="m g" font-size="1.7">180/185</text>
<text x="34.33" y="111.35" text-anchor="middle" class="m" fill="#30305a" font-size="4.7">30</text>
<text x="45.44" y="109.25" text-anchor="end" class="m g" font-size="1.7">181/184</text>
</g>
<g transform="translate(47.2,377.2) rotate(0.04)">
<text x="55.3" y="8.4" text-anchor="middle" class="b w" font-size="7.3" letter-spacing="0.08">JULY</text>
<text x="107.1" y="8.4" text-anchor="end" class="b w" font-size="7.3" letter-spacing="-0.3">2026</text>
<text x="7.76" y="14.15" text-anchor="middle" class="b w" font-size="3.2">SUN</text>
<text x="23.27" y="14.15" text-anchor="middle" class="b w" font-size="3.2">MON</text>
<text x="38.79" y="14.15" text-anchor="middle" class="b w" font-size="3.2">TUE</text>
<text x="54.30" y="14.15" text-anchor="middle" class="b w" font-size="3.2">WED</text>
<text x="69.81" y="14.15" text-anchor="middle" class="b w" font-size="3.2">THU</text>
<text x="85.33" y="14.15" text-anchor="middle" class="b w" font-size="3.2">FRI</text>
<text x="100.84" y="14.15" text-anchor="middle" class="b w" font-size="3.2">SAT</text>
<text x="49.84" y="19.35" text-anchor="middle" class="m" fill="#30305a" font-size="4.7">1</text>
<text x="60.96" y="17.25" text-anchor="end" class="m g" font-size="1.7">182/183</text>
<text x="65.36" y="19.35" text-anchor="middle" class="m" fill="#30305a" font-size="4.7">2</text>
<text x="76.47" y="17.25" text-anchor="end" class="m g" font-size="1.7">183/182</text>
<text x="80.87" y="19.35" text-anchor="middle" class="m" fill="#30305a" font-size="4.7">3</text>
<text x="91.99" y="17.25" text-anchor="end" class="m g" font-size="1.7">184/181</text>
<text x="96.39" y="19.35" text-anchor="middle" class="m" fill="#30305a" font-size="4.7">4</text>
<text x="107.50" y="17.25" text-anchor="end" class="m g" font-size="1.7">185/180</text>
<text x="94.49" y="36.80" class="r" fill="#666" font-size="1.5" textLength="9.9" lengthAdjust="spacingAndGlyphs">Independence Day</text>
<text x="3.30" y="42.35" text-anchor="middle" class="m" fill="#30305a" font-size="4.7">5</text>
<text x="14.41" y="40.25" text-anchor="end" class="m g" font-size="1.7">186/179</text>
<text x="18.81" y="42.35" text-anchor="middle" class="m" fill="#30305a" font-size="4.7">6</text>
<text x="29.93" y="40.25" text-anchor="end" class="m g" font-size="1.7">187/178</text>
<text x="34.33" y="42.35" text-anchor="middle" class="m" fill="#30305a" font-size="4.7">7</text>
<text x="45.44" y="40.25" text-anchor="end" class="m g" font-size="1.7">188/177</text>
<text x="49.84" y="42.35" text-anchor="middle" class="m" fill="#30305a" font-size="4.7">8</text>
<text x="60.96" y="40.25" text-anchor="end" class="m g" font-size="1.7">189/176</text>
<text x="65.36" y="42.35" text-anchor="middle" class="m" fill="#30305a" font-size="4.7">9</text>
<text x="76.47" y="40.25" text-anchor="end" class="m g" font-size="1.7">190/175</text>
<text x="80.87" y="42.35" text-anchor="middle" class="m" fill="#30305a" font-size="4.7">10</text>
<text x="91.99" y="40.25" text-anchor="end" class="m g" font-size="1.7">191/174</text>
<text x="96.39" y="42.35" text-anchor="middle" class="m" fill="#30305a" font-size="4.7">11</text>
<text x="107.50" y="40.25" text-anchor="end" class="m g" font-size="1.7">192/173</text>
<text x="3.30" y="65.35" text-anchor="middle" class="m" fill="#30305a" font-size="4.7">12</text>
<text x="14.41" y="63.25" text-anchor="end" class="m g" font-size="1.7">193/172</text>
<text x="18.81" y="65.35" text-anchor="middle" class="m" fill="#30305a" font-size="4.7">13</text>
<text x="29.93" y="63.25" text-anchor="end" class="m g" font-size="1.7">194/171</text>
<text x="34.33" y="65.35" text-anchor="middle" class="m" fill="#30305a" font-size="4.7">14</text>
<text x="45.44" y="63.25" text-anchor="end" class="m g" font-size="1.7">195/170</text>
<text x="49.84" y="65.35" text-anchor="middle" class="m" fill="#30305a" font-size="4.7">15</text>
<text x="60.96" y="63.25" text-anchor="end" class="m g" font-size="1.7">196/169</text>
<text x="65.36" y="65.35" text-anchor="middle" class="m" fill="#30305a" font-size="4.7">16</text>
<text x="76.47" y="63.25" text-anchor="end" class="m g" font-size="1.7">197/168</text>
<text x="80.87" y="65.35" text-anchor="middle" class="m" fill="#30305a" font-size="4.7">17</text>
<text x="91.99" y="63.25" text-anchor="end" class="m g" font-size="1.7">198/167</text>
<text x="96.39" y="65.35" text-anchor="middle" class="m" fill="#30305a" font-size="4.7">18</text>
<text x="107.50" y="63.25" text-anchor="end" class="m g" font-size="1.7">199/166</text>
<text x="3.30" y="88.35" text-anchor="middle" class="m" fill="#30305a" font-size="4.7">19</text>
<text x="14.41" y="86.25" text-anchor="end" class="m g" font-size="1.7">200/165</text>
<text x="18.81" y="88.35" text-anchor="middle" class="m" fill="#30305a" font-size="4.7">20</text>
<text x="29.93" y="86.25" text-anchor="end" class="m g" font-size="1.7">201/164</text>
<text x="34.33" y="88.35" text-anchor="middle" class="m" fill="#30305a" font-size="4.7">21</text>
<text x="45.44" y="86.25" text-anchor="end" class="m g" font-size="1.7">202/163</text>
<text x="49.84" y="88.35" text-anchor="middle" class="m" fill="#30305a" font-size="4.7">22</text>
<text x="60.96" y="86.25" text-anchor="end" class="m g" font-size="1.7">203/162</text>
<text x="65.36" y="88.35" text-anchor="middle" class="m" fill="#30305a" font-size="4.7">23</text>
<text x="76.47" y="86.25" text-anchor="end" class="m g" font-size="1.7">204/161</text>
<text x="80.87" y="88.35" text-anchor="middle" class="m" fill="#30305a" font-size="4.7">24</text>
<text x="91.99" y="86.25" text-anchor="end" class="m g" font-size="1.7">205/160</text>
<text x="96.39" y="88.35" text-anchor="middle" class="m" fill="#30305a" font-size="4.7">25</text>
<text x="107.50" y="86.25" text-anchor="end" class="m g" font-size="1.7">206/159</text>
<text x="3.30" y="111.35" text-anchor="middle" class="m" fill="#30305a" font-size="4.7">26</text>
<text x="14.41" y="109.25" text-anchor="end" class="m g" font-size="1.7">207/158</text>
<text x="18.81" y="111.35" text-anchor="middle" class="m" fill="#30305a" font-size="4.7">27</text>
<text x="29.93" y="109.25" text-anchor="end" class="m g" font-size="1.7">208/157</text>
<text x="34.33" y="111.35" text-anchor="middle" class="m" fill="#30305a" font-size="4.7">28</text>
<text x="45.44" y="109.25" text-anchor="end" class="m g" font-size="1.7">209/156</text>
<text x="49.84" y="111.35" text-anchor="middle" class="m" fill="#30305a" font-size="4.7">29</text>
<text x="60.96" y="109.25" text-anchor="end" class="m g" font-size="1.7">210/155</text>
<text x="65.36" y="111.35" text-anchor="middle" class="m" fill="#30305a" font-size="4.7">30</text>
<text x="76.47" y="109.25" text-anchor="end" class="m g" font-size="1.7">211/154</text>
<text x="80.87" y="111.35" text-anchor="middle" class="m" fill="#30305a" font-size="4.7">31</text>
<text x="91.99" y="109.25" text-anchor="end" class="m g" font-size="1.7">212/153</text>
</g>
<g transform="translate(168.8,377.2) rotate(0.04)">
<text x="55.3" y="8.4" text-anchor="middle" class="b w" font-size="7.3" letter-spacing="0.08">AUGUST</text>
<text x="107.1" y="8.4" text-anchor="end" class="b w" font-size="7.3" letter-spacing="-0.3">2026</text>
<text x="7.76" y="14.15" text-anchor="middle" class="b w" font-size="3.2">SUN</text>
<text x="23.27" y="14.15" text-anchor="middle" class="b w" font-size="3.2">MON</text>
<text x="38.79" y="14.15" text-anchor="middle" class="b w" font-size="3.2">TUE</text>
<text x="54.30" y="14.15" text-anchor="middle" class="b w" font-size="3.2">WED</text>
<text x="69.81" y="14.15" text-anchor="middle" class="b w" font-size="3.2">THU</text>
<text x="85.33" y="14.15" text-anchor="middle" class="b w" font-size="3.2">FRI</text>
<text x="100.84" y="14.15" text-anchor="middle" class="b w" font-size="3.2">SAT</text>
<text x="96.39" y="19.35" text-anchor="middle" class="m" fill="#30305a" font-size="4.7">1</text>
<text x="107.50" y="17.25" text-anchor="end" class="m g" font-size="1.7">213/152</text>
<text x="3.30" y="42.35" text-anchor="middle" class="m" fill="#30305a" font-size="4.7">2</text>
<text x="14.41" y="40.25" text-anchor="end" class="m g" font-size="1.7">214/151</text>
<text x="18.81" y="42.35" text-anchor="middle" class="m" fill="#30305a" font-size="4.7">3</text>
<text x="29.93" y="40.25" text-anchor="end" class="m g" font-size="1.7">215/150</text>
<text x="34.33" y="42.35" text-anchor="middle" class="m" fill="#30305a" font-size="4.7">4</text>
<text x="45.44" y="40.25" text-anchor="end" class="m g" font-size="1.7">216/149</text>
<text x="49.84" y="42.35" text-anchor="middle" class="m" fill="#30305a" font-size="4.7">5</text>
<text x="60.96" y="40.25" text-anchor="end" class="m g" font-size="1.7">217/148</text>
<text x="65.36" y="42.35" text-anchor="middle" class="m" fill="#30305a" font-size="4.7">6</text>
<text x="76.47" y="40.25" text-anchor="end" class="m g" font-size="1.7">218/147</text>
<text x="80.87" y="42.35" text-anchor="middle" class="m" fill="#30305a" font-size="4.7">7</text>
<text x="91.99" y="40.25" text-anchor="end" class="m g" font-size="1.7">219/146</text>
<text x="96.39" y="42.35" text-anchor="middle" class="m" fill="#30305a" font-size="4.7">8</text>
<text x="107.50" y="40.25" text-anchor="end" class="m g" font-size="1.7">220/145</text>
<text x="3.30" y="65.35" text-anchor="middle" class="m" fill="#30305a" font-size="4.7">9</text>
<text x="14.41" y="63.25" text-anchor="end" class="m g" font-size="1.7">221/144</text>
<text x="18.81" y="65.35" text-anchor="middle" class="m" fill="#30305a" font-size="4.7">10</text>
<text x="29.93" y="63.25" text-anchor="end" class="m g" font-size="1.7">222/143</text>
<text x="34.33" y="65.35" text-anchor="middle" class="m" fill="#30305a" font-size="4.7">11</text>
<text x="45.44" y="63.25" text-anchor="end" class="m g" font-size="1.7">223/142</text>
<text x="49.84" y="65.35" text-anchor="middle" class="m" fill="#30305a" font-size="4.7">12</text>
<text x="60.96" y="63.25" text-anchor="end" class="m g" font-size="1.7">224/141</text>
<text x="65.36" y="65.35" text-anchor="middle" class="m" fill="#30305a" font-size="4.7">13</text>
<text x="76.47" y="63.25" text-anchor="end" class="m g" font-size="1.7">225/140</text>
<text x="80.87" y="65.35" text-anchor="middle" class="m" fill="#30305a" font-size="4.7">14</text>
<text x="91.99" y="63.25" text-anchor="end" class="m g" font-size="1.7">226/139</text>
<text x="96.39" y="65.35" text-anchor="middle" class="m" fill="#30305a" font-size="4.7">15</text>
<text x="107.50" y="63.25" text-anchor="end" class="m g" font-size="1.7">227/138</text>
<text x="3.30" y="88.35" text-anchor="middle" class="m" fill="#30305a" font-size="4.7">16</text>
<text x="14.41" y="86.25" text-anchor="end" class="m g" font-size="1.7">228/137</text>
<text x="18.81" y="88.35" text-anchor="middle" class="m" fill="#30305a" font-size="4.7">17</text>
<text x="29.93" y="86.25" text-anchor="end" class="m g" font-size="1.7">229/136</text>
<text x="34.33" y="88.35" text-anchor="middle" class="m" fill="#30305a" font-size="4.7">18</text>
<text x="45.44" y="86.25" text-anchor="end" class="m g" font-size="1.7">230/135</text>
<text x="49.84" y="88.35" text-anchor="middle" class="m" fill="#30305a" font-size="4.7">19</text>
<text x="60.96" y="86.25" text-anchor="end" class="m g" font-size="1.7">231/134</text>
<text x="65.36" y="88.35" text-anchor="middle" class="m" fill="#30305a" font-size="4.7">20</text>
<text x="76.47" y="86.25" text-anchor="end" class="m g" font-size="1.7">232/133</text>
<text x="80.87" y="88.35" text-anchor="middle" class="m" fill="#30305a" font-size="4.7">21</text>
<text x="91.99" y="86.25" text-anchor="end" class="m g" font-size="1.7">233/132</text>
<text x="96.39" y="88.35" text-anchor="middle" class="m" fill="#30305a" font-size="4.7">22</text>
<text x="107.50" y="86.25" text-anchor="end" class="m g" font-size="1.7">234/131</text>
<text x="3.30" y="111.35" text-anchor="middle" class="m" fill="#30305a" font-size="4.7">23</text>
<text x="14.41" y="109.25" text-anchor="end" class="m g" font-size="1.7">235/130</text>
<text x="18.81" y="111.35" text-anchor="middle" class="m" fill="#30305a" font-size="4.7">24</text>
<text x="29.93" y="109.25" text-anchor="end" class="m g" font-size="1.7">236/129</text>
<text x="34.33" y="111.35" text-anchor="middle" class="m" fill="#30305a" font-size="4.7">25</text>
<text x="45.44" y="109.25" text-anchor="end" class="m g" font-size="1.7">237/128</text>
<text x="49.84" y="111.35" text-anchor="middle" class="m" fill="#30305a" font-size="4.7">26</text>
<text x="60.96" y="109.25" text-anchor="end" class="m g" font-size="1.7">238/127</text>
<text x="65.36" y="111.35" text-anchor="middle" class="m" fill="#30305a" font-size="4.7">27</text>
<text x="76.47" y="109.25" text-anchor="end" class="m g" font-size="1.7">239/126</text>
<text x="80.87" y="111.35" text-anchor="middle" class="m" fill="#30305a" font-size="4.7">28</text>
<text x="91.99" y="109.25" text-anchor="end" class="m g" font-size="1.7">240/125</text>
<text x="96.39" y="111.35" text-anchor="middle" class="m" fill="#30305a" font-size="4.7">29</text>
<text x="107.50" y="109.25" text-anchor="end" class="m g" font-size="1.7">241/124</text>
<text x="3.30" y="122.65" text-anchor="middle" class="m" fill="#30305a" font-size="4.7">30</text>
<text x="14.41" y="120.55" text-anchor="end" class="m g" font-size="1.7">242/123</text>
<text x="18.81" y="122.65" text-anchor="middle" class="m" fill="#30305a" font-size="4.7">31</text>
<text x="29.93" y="120.55" text-anchor="end" class="m g" font-size="1.7">243/122</text>
</g>
<g transform="translate(290.5,377.2) rotate(0.04)">
<text x="55.3" y="8.4" text-anchor="middle" class="b w" font-size="7.3" letter-spacing="0.08">SEPTEMBER</text>
<text x="107.1" y="8.4" text-anchor="end" class="b w" font-size="7.3" letter-spacing="-0.3">2026</text>
<text x="7.76" y="14.15" text-anchor="middle" class="b w" font-size="3.2">SUN</text>
<text x="23.27" y="14.15" text-anchor="middle" class="b w" font-size="3.2">MON</text>
<text x="38.79" y="14.15" text-anchor="middle" class="b w" font-size="3.2">TUE</text>
<text x="54.30" y="14.15" text-anchor="middle" class="b w" font-size="3.2">WED</text>
<text x="69.81" y="14.15" text-anchor="middle" class="b w" font-size="3.2">THU</text>
<text x="85.33" y="14.15" text-anchor="middle" class="b w" font-size="3.2">FRI</text>
<text x="100.84" y="14.15" text-anchor="middle" class="b w" font-size="3.2">SAT</text>
<text x="34.33" y="19.35" text-anchor="middle" class="m" fill="#30305a" font-size="4.7">1</text>
<text x="45.44" y="17.25" text-anchor="end" class="m g" font-size="1.7">244/121</text>
<text x="49.84" y="19.35" text-anchor="middle" class="m" fill="#30305a" font-size="4.7">2</text>
<text x="60.96" y="17.25" text-anchor="end" class="m g" font-size="1.7">245/120</text>
<text x="65.36" y="19.35" text-anchor="middle" class="m" fill="#30305a" font-size="4.7">3</text>
<text x="76.47" y="17.25" text-anchor="end" class="m g" font-size="1.7">246/119</text>
<text x="80.87" y="19.35" text-anchor="middle" class="m" fill="#30305a" font-size="4.7">4</text>
<text x="91.99" y="17.25" text-anchor="end" class="m g" font-size="1.7">247/118</text>
<text x="96.39" y="19.35" text-anchor="middle" class="m" fill="#30305a" font-size="4.7">5</text>
<text x="107.50" y="17.25" text-anchor="end" class="m g" font-size="1.7">248/117</text>
<text x="3.30" y="42.35" text-anchor="middle" class="m" fill="#30305a" font-size="4.7">6</text>
<text x="14.41" y="40.25" text-anchor="end" class="m g" font-size="1.7">249/116</text>
<text x="18.81" y="42.35" text-anchor="middle" class="m" fill="#30305a" font-size="4.7">7</text>
<text x="29.93" y="40.25" text-anchor="end" class="m g" font-size="1.7">250/115</text>
<text x="16.91" y="59.80" class="r" fill="#666" font-size="1.5" textLength="5.6" lengthAdjust="spacingAndGlyphs">Labor Day</text>
<text x="34.33" y="42.35" text-anchor="middle" class="m" fill="#30305a" font-size="4.7">8</text>
<text x="45.44" y="40.25" text-anchor="end" class="m g" font-size="1.7">251/114</text>
<text x="49.84" y="42.35" text-anchor="middle" class="m" fill="#30305a" font-size="4.7">9</text>
<text x="60.96" y="40.25" text-anchor="end" class="m g" font-size="1.7">252/113</text>
<text x="65.36" y="42.35" text-anchor="middle" class="m" fill="#30305a" font-size="4.7">10</text>
<text x="76.47" y="40.25" text-anchor="end" class="m g" font-size="1.7">253/112</text>
<text x="80.87" y="42.35" text-anchor="middle" class="m" fill="#30305a" font-size="4.7">11</text>
<text x="91.99" y="40.25" text-anchor="end" class="m g" font-size="1.7">254/111</text>
<text x="78.97" y="59.80" class="r" fill="#666" font-size="1.5" textLength="6.8" lengthAdjust="spacingAndGlyphs">Patriot Day</text>
<text x="96.39" y="42.35" text-anchor="middle" class="m" fill="#30305a" font-size="4.7">12</text>
<text x="107.50" y="40.25" text-anchor="end" class="m g" font-size="1.7">255/110</text>
<text x="3.30" y="65.35" text-anchor="middle" class="m" fill="#30305a" font-size="4.7">13</text>
<text x="14.41" y="63.25" text-anchor="end" class="m g" font-size="1.7">256/109</text>
<text x="1.40" y="82.80" class="r" fill="#666" font-size="1.5" textLength="9.9" lengthAdjust="spacingAndGlyphs">Grandparents Day</text>
<text x="18.81" y="65.35" text-anchor="middle" class="m" fill="#30305a" font-size="4.7">14</text>
<text x="29.93" y="63.25" text-anchor="end" class="m g" font-size="1.7">257/108</text>
<text x="34.33" y="65.35" text-anchor="middle" class="m" fill="#30305a" font-size="4.7">15</text>
<text x="45.44" y="63.25" text-anchor="end" class="m g" font-size="1.7">258/107</text>
<text x="49.84" y="65.35" text-anchor="middle" class="m" fill="#30305a" font-size="4.7">16</text>
<text x="60.96" y="63.25" text-anchor="end" class="m g" font-size="1.7">259/106</text>
<text x="65.36" y="65.35" text-anchor="middle" class="m" fill="#30305a" font-size="4.7">17</text>
<text x="76.47" y="63.25" text-anchor="end" class="m g" font-size="1.7">260/105</text>
<text x="80.87" y="65.35" text-anchor="middle" class="m" fill="#30305a" font-size="4.7">18</text>
<text x="91.99" y="63.25" text-anchor="end" class="m g" font-size="1.7">261/104</text>
<text x="96.39" y="65.35" text-anchor="middle" class="m" fill="#30305a" font-size="4.7">19</text>
<text x="107.50" y="63.25" text-anchor="end" class="m g" font-size="1.7">262/103</text>
<text x="3.30" y="88.35" text-anchor="middle" class="m" fill="#30305a" font-size="4.7">20</text>
<text x="14.41" y="86.25" text-anchor="end" class="m g" font-size="1.7">263/102</text>
<text x="18.81" y="88.35" text-anchor="middle" class="m" fill="#30305a" font-size="4.7">21</text>
<text x="29.93" y="86.25" text-anchor="end" class="m g" font-size="1.7">264/101</text>
<text x="16.91" y="105.80" class="r" fill="#666" font-size="1.5" textLength="11.2" lengthAdjust="spacingAndGlyphs">Intl. Day of Peace</text>
<text x="34.33" y="88.35" text-anchor="middle" class="m" fill="#30305a" font-size="4.7">22</text>
<text x="45.44" y="86.25" text-anchor="end" class="m g" font-size="1.7">265/100</text>
<text x="32.43" y="105.80" class="r" fill="#666" font-size="1.5" textLength="8.1" lengthAdjust="spacingAndGlyphs">Autumn Begins</text>
<text x="49.84" y="88.35" text-anchor="middle" class="m" fill="#30305a" font-size="4.7">23</text>
<text x="60.96" y="86.25" text-anchor="end" class="m g" font-size="1.7">266/99</text>
<text x="65.36" y="88.35" text-anchor="middle" class="m" fill="#30305a" font-size="4.7">24</text>
<text x="76.47" y="86.25" text-anchor="end" class="m g" font-size="1.7">267/98</text>
<text x="80.87" y="88.35" text-anchor="middle" class="m" fill="#30305a" font-size="4.7">25</text>
<text x="91.99" y="86.25" text-anchor="end" class="m g" font-size="1.7">268/97</text>
<text x="96.39" y="88.35" text-anchor="middle" class="m" fill="#30305a" font-size="4.7">26</text>
<text x="107.50" y="86.25" text-anchor="end" class="m g" font-size="1.7">269/96</text>
<text x="3.30" y="111.35" text-anchor="middle" class="m" fill="#30305a" font-size="4.7">27</text>
<text x="14.41" y="109.25" text-anchor="end" class="m g" font-size="1.7">270/95</text>
<text x="18.81" y="111.35" text-anchor="middle" class="m" fill="#30305a" font-size="4.7">28</text>
<text x="29.93" y="109.25" text-anchor="end" class="m g" font-size="1.7">271/94</text>
<text x="34.33" y="111.35" text-anchor="middle" class="m" fill="#30305a" font-size="4.7">29</text>
<text x="45.44" y="109.25" text-anchor="end" class="m g" font-size="1.7">272/93</text>
<text x="49.84" y="111.35" text-anchor="middle" class="m" fill="#30305a" font-size="4.7">30</text>
<text x="60.96" y="109.25" text-anchor="end" class="m g" font-size="1.7">273/92</text>
</g>
<g transform="translate(47.2,510.4) rotate(0.04)">
<text x="55.3" y="8.4" text-anchor="middle" class="b w" font-size="7.3" letter-spacing="0.08">OCTOBER</text>
<text x="107.1" y="8.4" text-anchor="end" class="b w" font-size="7.3" letter-spacing="-0.3">2026</text>
<text x="7.76" y="14.15" text-anchor="middle" class="b w" font-size="3.2">SUN</text>
<text x="23.27" y="14.15" text-anchor="middle" class="b w" font-size="3.2">MON</text>
<text x="38.79" y="14.15" text-anchor="middle" class="b w" font-size="3.2">TUE</text>
<text x="54.30" y="14.15" text-anchor="middle" class="b w" font-size="3.2">WED</text>
<text x="69.81" y="14.15" text-anchor="middle" class="b w" font-size="3.2">THU</text>
<text x="85.33" y="14.15" text-anchor="middle" class="b w" font-size="3.2">FRI</text>
<text x="100.84" y="14.15" text-anchor="middle" class="b w" font-size="3.2">SAT</text>
<text x="65.36" y="19.35" text-anchor="middle" class="m" fill="#30305a" font-size="4.7">1</text>
<text x="76.47" y="17.25" text-anchor="end" class="m g" font-size="1.7">274/91</text>
<text x="80.87" y="19.35" text-anchor="middle" class="m" fill="#30305a" font-size="4.7">2</text>
<text x="91.99" y="17.25" text-anchor="end" class="m g" font-size="1.7">275/90</text>
<text x="96.39" y="19.35" text-anchor="middle" class="m" fill="#30305a" font-size="4.7">3</text>
<text x="107.50" y="17.25" text-anchor="end" class="m g" font-size="1.7">276/89</text>
<text x="3.30" y="42.35" text-anchor="middle" class="m" fill="#30305a" font-size="4.7">4</text>
<text x="14.41" y="40.25" text-anchor="end" class="m g" font-size="1.7">277/88</text>
<text x="18.81" y="42.35" text-anchor="middle" class="m" fill="#30305a" font-size="4.7">5</text>
<text x="29.93" y="40.25" text-anchor="end" class="m g" font-size="1.7">278/87</text>
<text x="34.33" y="42.35" text-anchor="middle" class="m" fill="#30305a" font-size="4.7">6</text>
<text x="45.44" y="40.25" text-anchor="end" class="m g" font-size="1.7">279/86</text>
<text x="49.84" y="42.35" text-anchor="middle" class="m" fill="#30305a" font-size="4.7">7</text>
<text x="60.96" y="40.25" text-anchor="end" class="m g" font-size="1.7">280/85</text>
<text x="65.36" y="42.35" text-anchor="middle" class="m" fill="#30305a" font-size="4.7">8</text>
<text x="76.47" y="40.25" text-anchor="end" class="m g" font-size="1.7">281/84</text>
<text x="80.87" y="42.35" text-anchor="middle" class="m" fill="#30305a" font-size="4.7">9</text>
<text x="91.99" y="40.25" text-anchor="end" class="m g" font-size="1.7">282/83</text>
<text x="96.39" y="42.35" text-anchor="middle" class="m" fill="#30305a" font-size="4.7">10</text>
<text x="107.50" y="40.25" text-anchor="end" class="m g" font-size="1.7">283/82</text>
<text x="3.30" y="65.35" text-anchor="middle" class="m" fill="#30305a" font-size="4.7">11</text>
<text x="14.41" y="63.25" text-anchor="end" class="m g" font-size="1.7">284/81</text>
<text x="18.81" y="65.35" text-anchor="middle" class="m" fill="#30305a" font-size="4.7">12</text>
<text x="29.93" y="63.25" text-anchor="end" class="m g" font-size="1.7">285/80</text>
<text x="16.91" y="82.80" class="r" fill="#666" font-size="1.5" textLength="7.4" lengthAdjust="spacingAndGlyphs">Columbus Day</text>
<text x="34.33" y="65.35" text-anchor="middle" class="m" fill="#30305a" font-size="4.7">13</text>
<text x="45.44" y="63.25" text-anchor="end" class="m g" font-size="1.7">286/79</text>
<text x="49.84" y="65.35" text-anchor="middle" class="m" fill="#30305a" font-size="4.7">14</text>
<text x="60.96" y="63.25" text-anchor="end" class="m g" font-size="1.7">287/78</text>
<text x="65.36" y="65.35" text-anchor="middle" class="m" fill="#30305a" font-size="4.7">15</text>
<text x="76.47" y="63.25" text-anchor="end" class="m g" font-size="1.7">288/77</text>
<text x="80.87" y="65.35" text-anchor="middle" class="m" fill="#30305a" font-size="4.7">16</text>
<text x="91.99" y="63.25" text-anchor="end" class="m g" font-size="1.7">289/76</text>
<text x="96.39" y="65.35" text-anchor="middle" class="m" fill="#30305a" font-size="4.7">17</text>
<text x="107.50" y="63.25" text-anchor="end" class="m g" font-size="1.7">290/75</text>
<text x="3.30" y="88.35" text-anchor="middle" class="m" fill="#30305a" font-size="4.7">18</text>
<text x="14.41" y="86.25" text-anchor="end" class="m g" font-size="1.7">291/74</text>
<text x="18.81" y="88.35" text-anchor="middle" class="m" fill="#30305a" font-size="4.7">19</text>
<text x="29.93" y="86.25" text-anchor="end" class="m g" font-size="1.7">292/73</text>
<text x="34.33" y="88.35" text-anchor="middle" class="m" fill="#30305a" font-size="4.7">20</text>
<text x="45.44" y="86.25" text-anchor="end" class="m g" font-size="1.7">293/72</text>
<text x="49.84" y="88.35" text-anchor="middle" class="m" fill="#30305a" font-size="4.7">21</text>
<text x="60.96" y="86.25" text-anchor="end" class="m g" font-size="1.7">294/71</text>
<text x="65.36" y="88.35" text-anchor="middle" class="m" fill="#30305a" font-size="4.7">22</text>
<text x="76.47" y="86.25" text-anchor="end" class="m g" font-size="1.7">295/70</text>
<text x="80.87" y="88.35" text-anchor="middle" class="m" fill="#30305a" font-size="4.7">23</text>
<text x="91.99" y="86.25" text-anchor="end" class="m g" font-size="1.7">296/69</text>
<text x="96.39" y="88.35" text-anchor="middle" class="m" fill="#30305a" font-size="4.7">24</text>
<text x="107.50" y="86.25" text-anchor="end" class="m g" font-size="1.7">297/68</text>
<text x="3.30" y="111.35" text-anchor="middle" class="m" fill="#30305a" font-size="4.7">25</text>
<text x="14.41" y="109.25" text-anchor="end" class="m g" font-size="1.7">298/67</text>
<text x="18.81" y="111.35" text-anchor="middle" class="m" fill="#30305a" font-size="4.7">26</text>
<text x="29.93" y="109.25" text-anchor="end" class="m g" font-size="1.7">299/66</text>
<text x="34.33" y="111.35" text-anchor="middle" class="m" fill="#30305a" font-size="4.7">27</text>
<text x="45.44" y="109.25" text-anchor="end" class="m g" font-size="1.7">300/65</text>
<text x="49.84" y="111.35" text-anchor="middle" class="m" fill="#30305a" font-size="4.7">28</text>
<text x="60.96" y="109.25" text-anchor="end" class="m g" font-size="1.7">301/64</text>
<text x="65.36" y="111.35" text-anchor="middle" class="m" fill="#30305a" font-size="4.7">29</text>
<text x="76.47" y="109.25" text-anchor="end" class="m g" font-size="1.7">302/63</text>
<text x="80.87" y="111.35" text-anchor="middle" class="m" fill="#30305a" font-size="4.7">30</text>
<text x="91.99" y="109.25" text-anchor="end" class="m g" font-size="1.7">303/62</text>
<text x="96.39" y="111.35" text-anchor="middle" class="m" fill="#30305a" font-size="4.7">31</text>
<text x="107.50" y="109.25" text-anchor="end" class="m g" font-size="1.7">304/61</text>
<text x="94.49" y="128.80" class="r" fill="#666" font-size="1.5" textLength="5.6" lengthAdjust="spacingAndGlyphs">Halloween</text>
</g>
<g transform="translate(168.8,510.4) rotate(0.04)">
<text x="55.3" y="8.4" text-anchor="middle" class="b w" font-size="7.3" letter-spacing="0.08">NOVEMBER</text>
<text x="107.1" y="8.4" text-anchor="end" class="b w" font-size="7.3" letter-spacing="-0.3">2026</text>
<text x="7.76" y="14.15" text-anchor="middle" class="b w" font-size="3.2">SUN</text>
<text x="23.27" y="14.15" text-anchor="middle" class="b w" font-size="3.2">MON</text>
<text x="38.79" y="14.15" text-anchor="middle" class="b w" font-size="3.2">TUE</text>
<text x="54.30" y="14.15" text-anchor="middle" class="b w" font-size="3.2">WED</text>
<text x="69.81" y="14.15" text-anchor="middle" class="b w" font-size="3.2">THU</text>
<text x="85.33" y="14.15" text-anchor="middle" class="b w" font-size="3.2">FRI</text>
<text x="100.84" y="14.15" text-anchor="middle" class="b w" font-size="3.2">SAT</text>
<text x="3.30" y="19.35" text-anchor="middle" class="m" fill="#30305a" font-size="4.7">1</text>
<text x="14.41" y="17.25" text-anchor="end" class="m g" font-size="1.7">305/60</text>
<text x="1.40" y="36.80" class="r" fill="#666" font-size="1.5" textLength="13.0" lengthAdjust="spacingAndGlyphs">Daylight Saving Time Ends</text>
<text x="18.81" y="19.35" text-anchor="middle" class="m" fill="#30305a" font-size="4.7">2</text>
<text x="29.93" y="17.25" text-anchor="end" class="m g" font-size="1.7">306/59</text>
<text x="34.33" y="19.35" text-anchor="middle" class="m" fill="#30305a" font-size="4.7">3</text>
<text x="45.44" y="17.25" text-anchor="end" class="m g" font-size="1.7">307/58</text>
<text x="32.43" y="36.80" class="r" fill="#666" font-size="1.5" textLength="7.4" lengthAdjust="spacingAndGlyphs">Election Day</text>
<text x="49.84" y="19.35" text-anchor="middle" class="m" fill="#30305a" font-size="4.7">4</text>
<text x="60.96" y="17.25" text-anchor="end" class="m g" font-size="1.7">308/57</text>
<text x="65.36" y="19.35" text-anchor="middle" class="m" fill="#30305a" font-size="4.7">5</text>
<text x="76.47" y="17.25" text-anchor="end" class="m g" font-size="1.7">309/56</text>
<text x="80.87" y="19.35" text-anchor="middle" class="m" fill="#30305a" font-size="4.7">6</text>
<text x="91.99" y="17.25" text-anchor="end" class="m g" font-size="1.7">310/55</text>
<text x="96.39" y="19.35" text-anchor="middle" class="m" fill="#30305a" font-size="4.7">7</text>
<text x="107.50" y="17.25" text-anchor="end" class="m g" font-size="1.7">311/54</text>
<text x="3.30" y="42.35" text-anchor="middle" class="m" fill="#30305a" font-size="4.7">8</text>
<text x="14.41" y="40.25" text-anchor="end" class="m g" font-size="1.7">312/53</text>
<text x="18.81" y="42.35" text-anchor="middle" class="m" fill="#30305a" font-size="4.7">9</text>
<text x="29.93" y="40.25" text-anchor="end" class="m g" font-size="1.7">313/52</text>
<text x="34.33" y="42.35" text-anchor="middle" class="m" fill="#30305a" font-size="4.7">10</text>
<text x="45.44" y="40.25" text-anchor="end" class="m g" font-size="1.7">314/51</text>
<text x="49.84" y="42.35" text-anchor="middle" class="m" fill="#30305a" font-size="4.7">11</text>
<text x="60.96" y="40.25" text-anchor="end" class="m g" font-size="1.7">315/50</text>
<text x="47.94" y="59.80" class="r" fill="#666" font-size="1.5" textLength="7.4" lengthAdjust="spacingAndGlyphs">Veterans Day</text>
<text x="65.36" y="42.35" text-anchor="middle" class="m" fill="#30305a" font-size="4.7">12</text>
<text x="76.47" y="40.25" text-anchor="end" class="m g" font-size="1.7">316/49</text>
<text x="80.87" y="42.35" text-anchor="middle" class="m" fill="#30305a" font-size="4.7">13</text>
<text x="91.99" y="40.25" text-anchor="end" class="m g" font-size="1.7">317/48</text>
<text x="96.39" y="42.35" text-anchor="middle" class="m" fill="#30305a" font-size="4.7">14</text>
<text x="107.50" y="40.25" text-anchor="end" class="m g" font-size="1.7">318/47</text>
<text x="3.30" y="65.35" text-anchor="middle" class="m" fill="#30305a" font-size="4.7">15</text>
<text x="14.41" y="63.25" text-anchor="end" class="m g" font-size="1.7">319/46</text>
<text x="18.81" y="65.35" text-anchor="middle" class="m" fill="#30305a" font-size="4.7">16</text>
<text x="29.93" y="63.25" text-anchor="end" class="m g" font-size="1.7">320/45</text>
<text x="34.33" y="65.35" text-anchor="middle" class="m" fill="#30305a" font-size="4.7">17</text>
<text x="45.44" y="63.25" text-anchor="end" class="m g" font-size="1.7">321/44</text>
<text x="49.84" y="65.35" text-anchor="middle" class="m" fill="#30305a" font-size="4.7">18</text>
<text x="60.96" y="63.25" text-anchor="end" class="m g" font-size="1.7">322/43</text>
<text x="65.36" y="65.35" text-anchor="middle" class="m" fill="#30305a" font-size="4.7">19</text>
<text x="76.47" y="63.25" text-anchor="end" class="m g" font-size="1.7">323/42</text>
<text x="80.87" y="65.35" text-anchor="middle" class="m" fill="#30305a" font-size="4.7">20</text>
<text x="91.99" y="63.25" text-anchor="end" class="m g" font-size="1.7">324/41</text>
<text x="96.39" y="65.35" text-anchor="middle" class="m" fill="#30305a" font-size="4.7">21</text>
<text x="107.50" y="63.25" text-anchor="end" class="m g" font-size="1.7">325/40</text>
<text x="3.30" y="88.35" text-anchor="middle" class="m" fill="#30305a" font-size="4.7">22</text>
<text x="14.41" y="86.25" text-anchor="end" class="m g" font-size="1.7">326/39</text>
<text x="18.81" y="88.35" text-anchor="middle" class="m" fill="#30305a" font-size="4.7">23</text>
<text x="29.93" y="86.25" text-anchor="end" class="m g" font-size="1.7">327/38</text>
<text x="34.33" y="88.35" text-anchor="middle" class="m" fill="#30305a" font-size="4.7">24</text>
<text x="45.44" y="86.25" text-anchor="end" class="m g" font-size="1.7">328/37</text>
<text x="49.84" y="88.35" text-anchor="middle" class="m" fill="#30305a" font-size="4.7">25</text>
<text x="60.96" y="86.25" text-anchor="end" class="m g" font-size="1.7">329/36</text>
<text x="65.36" y="88.35" text-anchor="middle" class="m" fill="#30305a" font-size="4.7">26</text>
<text x="76.47" y="86.25" text-anchor="end" class="m g" font-size="1.7">330/35</text>
<text x="63.46" y="105.80" class="r" fill="#666" font-size="1.5" textLength="9.9" lengthAdjust="spacingAndGlyphs">Thanksgiving Day</text>
<text x="80.87" y="88.35" text-anchor="middle" class="m" fill="#30305a" font-size="4.7">27</text>
<text x="91.99" y="86.25" text-anchor="end" class="m g" font-size="1.7">331/34</text>
<text x="96.39" y="88.35" text-anchor="middle" class="m" fill="#30305a" font-size="4.7">28</text>
<text x="107.50" y="86.25" text-anchor="end" class="m g" font-size="1.7">332/33</text>
<text x="3.30" y="111.35" text-anchor="middle" class="m" fill="#30305a" font-size="4.7">29</text>
<text x="14.41" y="109.25" text-anchor="end" class="m g" font-size="1.7">333/32</text>
<text x="18.81" y="111.35" text-anchor="middle" class="m" fill="#30305a" font-size="4.7">30</text>
<text x="29.93" y="109.25" text-anchor="end" class="m g" font-size="1.7">334/31</text>
</g>
<g transform="translate(290.5,510.4) rotate(0.04)">
<text x="55.3" y="8.4" text-anchor="middle" class="b w" font-size="7.3" letter-spacing="0.08">DECEMBER</text>
<text x="107.1" y="8.4" text-anchor="end" class="b w" font-size="7.3" letter-spacing="-0.3">2026</text>
<text x="7.76" y="14.15" text-anchor="middle" class="b w" font-size="3.2">SUN</text>
<text x="23.27" y="14.15" text-anchor="middle" class="b w" font-size="3.2">MON</text>
<text x="38.79" y="14.15" text-anchor="middle" class="b w" font-size="3.2">TUE</text>
<text x="54.30" y="14.15" text-anchor="middle" class="b w" font-size="3.2">WED</text>
<text x="69.81" y="14.15" text-anchor="middle" class="b w" font-size="3.2">THU</text>
<text x="85.33" y="14.15" text-anchor="middle" class="b w" font-size="3.2">FRI</text>
<text x="100.84" y="14.15" text-anchor="middle" class="b w" font-size="3.2">SAT</text>
<text x="34.33" y="19.35" text-anchor="middle" class="m" fill="#30305a" font-size="4.7">1</text>
<text x="45.44" y="17.25" text-anchor="end" class="m g" font-size="1.7">335/30</text>
<text x="49.84" y="19.35" text-anchor="middle" class="m" fill="#30305a" font-size="4.7">2</text>
<text x="60.96" y="17.25" text-anchor="end" class="m g" font-size="1.7">336/29</text>
<text x="65.36" y="19.35" text-anchor="middle" class="m" fill="#30305a" font-size="4.7">3</text>
<text x="76.47" y="17.25" text-anchor="end" class="m g" font-size="1.7">337/28</text>
<text x="80.87" y="19.35" text-anchor="middle" class="m" fill="#30305a" font-size="4.7">4</text>
<text x="91.99" y="17.25" text-anchor="end" class="m g" font-size="1.7">338/27</text>
<text x="96.39" y="19.35" text-anchor="middle" class="m" fill="#30305a" font-size="4.7">5</text>
<text x="107.50" y="17.25" text-anchor="end" class="m g" font-size="1.7">339/26</text>
<text x="3.30" y="42.35" text-anchor="middle" class="m" fill="#30305a" font-size="4.7">6</text>
<text x="14.41" y="40.25" text-anchor="end" class="m g" font-size="1.7">340/25</text>
<text x="18.81" y="42.35" text-anchor="middle" class="m" fill="#30305a" font-size="4.7">7</text>
<text x="29.93" y="40.25" text-anchor="end" class="m g" font-size="1.7">341/24</text>
<text x="34.33" y="42.35" text-anchor="middle" class="m" fill="#30305a" font-size="4.7">8</text>
<text x="45.44" y="40.25" text-anchor="end" class="m g" font-size="1.7">342/23</text>
<text x="49.84" y="42.35" text-anchor="middle" class="m" fill="#30305a" font-size="4.7">9</text>
<text x="60.96" y="40.25" text-anchor="end" class="m g" font-size="1.7">343/22</text>
<text x="65.36" y="42.35" text-anchor="middle" class="m" fill="#30305a" font-size="4.7">10</text>
<text x="76.47" y="40.25" text-anchor="end" class="m g" font-size="1.7">344/21</text>
<text x="80.87" y="42.35" text-anchor="middle" class="m" fill="#30305a" font-size="4.7">11</text>
<text x="91.99" y="40.25" text-anchor="end" class="m g" font-size="1.7">345/20</text>
<text x="96.39" y="42.35" text-anchor="middle" class="m" fill="#30305a" font-size="4.7">12</text>
<text x="107.50" y="40.25" text-anchor="end" class="m g" font-size="1.7">346/19</text>
<text x="3.30" y="65.35" text-anchor="middle" class="m" fill="#30305a" font-size="4.7">13</text>
<text x="14.41" y="63.25" text-anchor="end" class="m g" font-size="1.7">347/18</text>
<text x="18.81" y="65.35" text-anchor="middle" class="m" fill="#30305a" font-size="4.7">14</text>
<text x="29.93" y="63.25" text-anchor="end" class="m g" font-size="1.7">348/17</text>
<text x="34.33" y="65.35" text-anchor="middle" class="m" fill="#30305a" font-size="4.7">15</text>
<text x="45.44" y="63.25" text-anchor="end" class="m g" font-size="1.7">349/16</text>
<text x="49.84" y="65.35" text-anchor="middle" class="m" fill="#30305a" font-size="4.7">16</text>
<text x="60.96" y="63.25" text-anchor="end" class="m g" font-size="1.7">350/15</text>
<text x="65.36" y="65.35" text-anchor="middle" class="m" fill="#30305a" font-size="4.7">17</text>
<text x="76.47" y="63.25" text-anchor="end" class="m g" font-size="1.7">351/14</text>
<text x="80.87" y="65.35" text-anchor="middle" class="m" fill="#30305a" font-size="4.7">18</text>
<text x="91.99" y="63.25" text-anchor="end" class="m g" font-size="1.7">352/13</text>
<text x="96.39" y="65.35" text-anchor="middle" class="m" fill="#30305a" font-size="4.7">19</text>
<text x="107.50" y="63.25" text-anchor="end" class="m g" font-size="1.7">353/12</text>
<text x="3.30" y="88.35" text-anchor="middle" class="m" fill="#30305a" font-size="4.7">20</text>
<text x="14.41" y="86.25" text-anchor="end" class="m g" font-size="1.7">354/11</text>
<text x="18.81" y="88.35" text-anchor="middle" class="m" fill="#30305a" font-size="4.7">21</text>
<text x="29.93" y="86.25" text-anchor="end" class="m g" font-size="1.7">355/10</text>
<text x="16.91" y="105.80" class="r" fill="#666" font-size="1.5" textLength="8.1" lengthAdjust="spacingAndGlyphs">Winter Begins</text>
<text x="34.33" y="88.35" text-anchor="middle" class="m" fill="#30305a" font-size="4.7">22</text>
<text x="45.44" y="86.25" text-anchor="end" class="m g" font-size="1.7">356/9</text>
<text x="49.84" y="88.35" text-anchor="middle" class="m" fill="#30305a" font-size="4.7">23</text>
<text x="60.96" y="86.25" text-anchor="end" class="m g" font-size="1.7">357/8</text>
<text x="65.36" y="88.35" text-anchor="middle" class="m" fill="#30305a" font-size="4.7">24</text>
<text x="76.47" y="86.25" text-anchor="end" class="m g" font-size="1.7">358/7</text>
<text x="63.46" y="105.80" class="r" fill="#666" font-size="1.5" textLength="8.1" lengthAdjust="spacingAndGlyphs">Christmas Eve</text>
<text x="80.87" y="88.35" text-anchor="middle" class="m" fill="#30305a" font-size="4.7">25</text>
<text x="91.99" y="86.25" text-anchor="end" class="m g" font-size="1.7">359/6</text>
<text x="78.97" y="105.80" class="r" fill="#666" font-size="1.5" textLength="8.1" lengthAdjust="spacingAndGlyphs">Christmas Day</text>
<text x="96.39" y="88.35" text-anchor="middle" class="m" fill="#30305a" font-size="4.7">26</text>
<text x="107.50" y="86.25" text-anchor="end" class="m g" font-size="1.7">360/5</text>
<text x="3.30" y="111.35" text-anchor="middle" class="m" fill="#30305a" font-size="4.7">27</text>
<text x="14.41" y="109.25" text-anchor="end" class="m g" font-size="1.7">361/4</text>
<text x="18.81" y="111.35" text-anchor="middle" class="m" fill="#30305a" font-size="4.7">28</text>
<text x="29.93" y="109.25" text-anchor="end" class="m g" font-size="1.7">362/3</text>
<text x="34.33" y="111.35" text-anchor="middle" class="m" fill="#30305a" font-size="4.7">29</text>
<text x="45.44" y="109.25" text-anchor="end" class="m g" font-size="1.7">363/2</text>
<text x="49.84" y="111.35" text-anchor="middle" class="m" fill="#30305a" font-size="4.7">30</text>
<text x="60.96" y="109.25" text-anchor="end" class="m g" font-size="1.7">364/1</text>
<text x="65.36" y="111.35" text-anchor="middle" class="m" fill="#30305a" font-size="4.7">31</text>
<text x="76.47" y="109.25" text-anchor="end" class="m g" font-size="1.7">365/0</text>
<text x="63.46" y="128.80" class="r" fill="#666" font-size="1.5" textLength="8.7" lengthAdjust="spacingAndGlyphs">New Year's Eve</text>
</g>
<text transform="translate(18.7,434) rotate(-90)" class="r" font-size="22" letter-spacing="0.86" fill="#111">88.4cm/34.8&quot;</text>
<text x="164" y="681.7" class="r" font-size="22" letter-spacing="0.78" fill="#111">57.9cm/22.8&quot;</text>
<text x="475.5" y="36.7" text-anchor="middle" class="b w" font-size="33">Jan</text>
<text x="475.7" y="75.4" text-anchor="middle" class="b w" font-size="32">2026</text>
<text x="548.3" y="55.7" text-anchor="middle" class="b w" font-size="32">to</text>
<text x="623.2" y="36.7" text-anchor="middle" class="b w" font-size="33">Dec</text>
<text x="626.5" y="75.4" text-anchor="middle" class="b w" font-size="32">2026</text>
<text x="531" y="124.8" class="b w" font-size="24">2026</text>
<text x="441.2" y="148.7" class="b w" font-size="10.5">THU</text>
<text x="511.4" y="148.7" text-anchor="middle" class="b w" font-size="10.5">FRI</text>
<text x="559.8" y="148.7" class="b w" font-size="10.5">SAT</text>
<text x="489.3" y="168" class="m n" font-size="16.7">2</text>
<text x="547.8" y="168" class="m n" font-size="16.7">3</text>
<text x="476.6" y="160.6" text-anchor="end" class="r" font-size="6.8" fill="#333">1/364</text>
<text x="537.2" y="160.6" text-anchor="end" class="r" font-size="6.8" fill="#333">2/363</text>
<text x="579.2" y="160.6" class="r" font-size="6.8" fill="#333">3/362</text>
<text x="489.3" y="253.4" class="m n" font-size="16.7">9</text>
<text x="545.4" y="253.4" class="m n" font-size="16.7" letter-spacing="1.2">10</text>
<text x="537.2" y="248" text-anchor="end" class="r" font-size="6.8" fill="#333">9/356</text>
<path fill="#fff" fill-rule="evenodd" d="M436 107.1h168v148h-168z M446.6 181.1a71.6 71.6 0 1 0 143.2 0a71.6 71.6 0 1 0 -143.2 0z"/>
<circle cx="518.2" cy="181.1" r="71.6" fill="none" stroke="#0c0c0c" stroke-width="2.2"/>
<text x="520.600" y="326.600" text-anchor="middle" class="r" font-size="9.8" fill="#222">1 &quot;</text>
<text x="476.200" y="374.2" class="r" font-size="9.8" fill="#222">1.45 &quot;</text>
<text x="499.400" y="343.200" class="m n" font-size="15.500">7</text>
<text x="557.200" y="343.200" class="m n" font-size="15.500">8</text>
<text x="487.400" y="336" text-anchor="end" class="r" font-size="6.200" fill="#444">6/359</text>
<text x="546.200" y="336" text-anchor="end" class="r" font-size="6.200" fill="#444">7/358</text>
<text x="562.400" y="321.800" class="r" font-size="4" fill="#777">New Year</text>
<text x="494" y="429" class="m n" font-size="16.500" letter-spacing="1.2">14</text>
<text x="552.600" y="429" class="m n" font-size="16.500" letter-spacing="1.2">15</text>
<text x="487.600" y="421.400" text-anchor="end" class="r" font-size="6.200" fill="#444">13/352</text>
<text x="546.200" y="421.400" text-anchor="end" class="r" font-size="6.200" fill="#444">14/351</text>
<path fill="#fff" fill-rule="evenodd" d="M436 286.7h168v148h-168z M447.1 360.7a71.6 71.6 0 1 0 143.2 0a71.6 71.6 0 1 0 -143.2 0z"/>
<circle cx="518.700" cy="360.700" r="71.600" fill="none" stroke="#0c0c0c" stroke-width="2.200"/>
<text x="500" y="505.200" text-anchor="middle" class="b w" font-size="10.600">FRI</text>
<text x="552.200" y="505.200" class="b w" font-size="10.600">SAT</text>
<text x="476.800" y="526.400" class="m n" font-size="17">2</text>
<text x="539" y="526.400" class="m n" font-size="17">3</text>
<text x="464.400" y="518" text-anchor="end" class="r" font-size="6.800" fill="#444">1/364</text>
<text x="527.400" y="518" text-anchor="end" class="r" font-size="6.800" fill="#444">2/363</text>
<text x="572.600" y="518" class="r" font-size="6.800" fill="#444">3/362</text>
<text x="476.800" y="619" class="m n" font-size="17">9</text>
<text x="533.600" y="619" class="m n" font-size="17" letter-spacing="1.4">10</text>
<text x="527.400" y="610.600" text-anchor="end" class="r" font-size="6.800" fill="#444">9/356</text>
<path fill="#fff" fill-rule="evenodd" d="M436 480.6h168v148h-168z M447.3 554.6a71.6 71.6 0 1 0 143.2 0a71.6 71.6 0 1 0 -143.2 0z"/>
<circle cx="518.900" cy="554.600" r="71.600" fill="none" stroke="#0c0c0c" stroke-width="2.200"/>
<text x="455.9" y="280.2" class="m" font-size="17" letter-spacing="0.5" fill="#1d365e" stroke="#1d365e" stroke-width="0.35">Important day</text>
<text x="469.700" y="460.200" class="m" font-size="17" letter-spacing="0.580" fill="#1d365e" stroke="#1d365e" stroke-width="0.35">1.45in x 1in</text>
<text x="424" y="653.800" class="m" font-size="17" letter-spacing="0.500" fill="#1d365e" stroke="#1d365e" stroke-width="0.35">Special weekend show</text>
</svg></body></html>
